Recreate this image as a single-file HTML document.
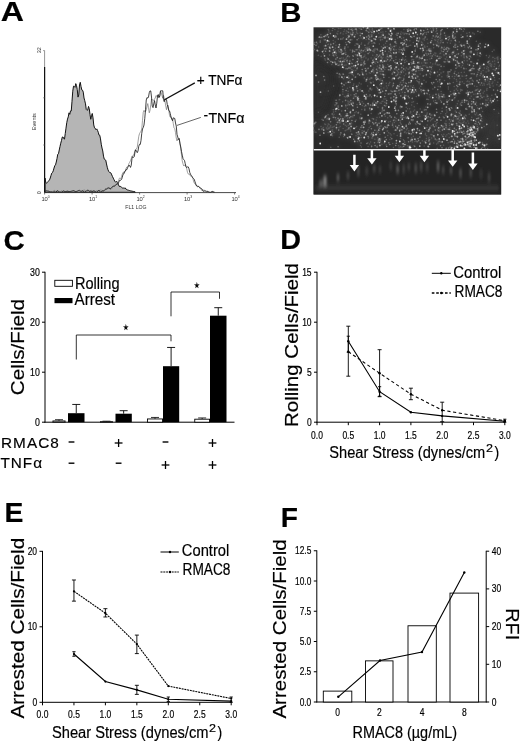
<!DOCTYPE html>
<html><head><meta charset="utf-8"><title>Figure</title>
<style>
html,body{margin:0;padding:0;background:#fff;}
body{width:520px;height:745px;overflow:hidden;}
svg{display:block;font-family:'Liberation Sans', sans-serif;}
</style></head><body>
<svg width="520" height="745" viewBox="0 0 520 745">
<rect width="520" height="745" fill="#fff"/>
<text x="0.80" y="21.00" font-size="28" font-weight="700" fill="#000" textLength="23.20" lengthAdjust="spacingAndGlyphs" stroke="#000" stroke-width="0.18">A</text>
<text x="280.20" y="22.00" font-size="28" font-weight="700" fill="#000" textLength="21.20" lengthAdjust="spacingAndGlyphs" stroke="#000" stroke-width="0.18">B</text>
<text x="3.40" y="250.20" font-size="28" font-weight="700" fill="#000" textLength="21.20" lengthAdjust="spacingAndGlyphs" stroke="#000" stroke-width="0.18">C</text>
<text x="280.20" y="249.30" font-size="28" font-weight="700" fill="#000" textLength="20.80" lengthAdjust="spacingAndGlyphs" stroke="#000" stroke-width="0.18">D</text>
<text x="4.40" y="522.00" font-size="28" font-weight="700" fill="#000" textLength="18.90" lengthAdjust="spacingAndGlyphs" stroke="#000" stroke-width="0.18">E</text>
<text x="280.80" y="527.20" font-size="28" font-weight="700" fill="#000" textLength="17.20" lengthAdjust="spacingAndGlyphs" stroke="#000" stroke-width="0.18">F</text>
<path d="M45,192.30 L45.00,178.05 L45.75,182.25 L46.50,183.34 L47.25,182.43 L48.00,181.64 L48.75,180.73 L49.50,179.82 L50.25,177.97 L51.00,175.43 L51.75,173.13 L52.50,172.50 L53.25,170.80 L54.00,168.10 L54.75,165.78 L55.50,164.90 L56.25,162.06 L57.00,158.57 L57.75,154.25 L58.50,153.67 L59.25,149.97 L60.00,146.44 L60.75,143.19 L61.50,140.45 L62.25,137.11 L63.00,136.94 L63.75,138.63 L64.50,139.10 L65.25,133.52 L66.00,128.15 L66.75,122.68 L67.50,119.10 L68.25,116.87 L69.00,112.83 L69.75,114.34 L70.50,110.91 L71.25,110.99 L72.00,101.24 L72.75,91.19 L73.50,86.18 L74.25,86.45 L75.00,87.35 L75.75,83.61 L76.50,85.44 L77.25,89.66 L78.00,97.11 L78.75,95.03 L79.50,84.99 L80.25,82.30 L81.00,86.39 L81.75,89.88 L82.50,90.17 L83.25,92.12 L84.00,97.99 L84.75,100.71 L85.50,103.88 L86.25,109.51 L87.00,110.39 L87.75,109.94 L88.50,106.42 L89.25,108.67 L90.00,114.55 L90.75,119.29 L91.50,115.74 L92.25,113.48 L93.00,117.88 L93.75,124.96 L94.50,127.85 L95.25,128.30 L96.00,129.73 L96.75,128.88 L97.50,130.37 L98.25,132.28 L99.00,135.16 L99.75,135.28 L100.50,138.92 L101.25,144.22 L102.00,148.04 L102.75,150.97 L103.50,156.13 L104.25,159.13 L105.00,159.72 L105.75,160.18 L106.50,163.93 L107.25,167.24 L108.00,169.83 L108.75,171.47 L109.50,172.42 L110.25,172.52 L111.00,173.08 L111.75,174.90 L112.50,176.59 L113.25,178.11 L114.00,179.70 L114.75,181.19 L115.50,182.10 L116.25,181.73 L117.00,181.53 L117.75,182.72 L118.50,184.86 L119.25,186.37 L120.00,186.59 L120.75,186.55 L121.50,187.21 L122.25,187.83 L123.00,188.37 L123.75,187.96 L124.50,188.21 L125.25,187.93 L126.00,189.18 L126.75,189.57 L127.50,189.94 L128.25,190.17 L129.00,190.38 L129.75,190.61 L130.50,190.83 L131.25,190.99 L132.00,191.14 L132.75,191.33 L133.50,191.46 L134.25,191.62 L135.00,191.79 L135.5,192.3 Z" fill="#b5b5b5" stroke="#111" stroke-width="1.0" stroke-linejoin="round"/>
<polyline points="45.00,190.72 45.75,190.82 46.50,191.99 47.25,192.30 48.00,192.30 48.75,191.84 49.50,191.91 50.25,191.87 51.00,191.93 51.75,192.18 52.50,191.98 53.25,191.32 54.00,190.37 54.75,190.54 55.50,191.11 56.25,191.86 57.00,192.30 57.75,192.04 58.50,191.94 59.25,192.04 60.00,192.30 60.75,191.50 61.50,190.87 62.25,191.26 63.00,192.08 63.75,191.92 64.50,191.50 65.25,191.60 66.00,191.93 66.75,191.58 67.50,190.61 68.25,190.80 69.00,191.56 69.75,192.30 70.50,192.30 71.25,192.30 72.00,192.30 72.75,191.81 73.50,191.33 74.25,191.65 75.00,191.95 75.75,191.78 76.50,191.92 77.25,192.30 78.00,192.30 78.75,192.13 79.50,191.95 80.25,192.30 81.00,192.30 81.75,191.90 82.50,190.78 83.25,190.35 84.00,190.29 84.75,190.08 85.50,190.75 86.25,191.10 87.00,191.95 87.75,192.07 88.50,192.30 89.25,192.02 90.00,191.09 90.75,190.51 91.50,190.44 92.25,190.86 93.00,191.01 93.75,191.43 94.50,191.55 95.25,191.59 96.00,190.85 96.75,190.68 97.50,190.84 98.25,191.30 99.00,190.51 99.75,190.34 100.50,190.07 101.25,190.28 102.00,190.22 102.75,190.82 103.50,190.63 104.25,190.61 105.00,190.01 105.75,189.76 106.50,189.17 107.25,189.04 108.00,188.35 108.75,187.54 109.50,187.72 110.25,189.11 111.00,189.41 111.75,188.61 112.50,187.09 113.25,186.65 114.00,185.85 114.75,185.24 115.50,184.54 116.25,183.87 117.00,183.44 117.75,183.32 118.50,181.16 119.25,178.37 120.00,177.90 120.75,178.53 121.50,177.24 122.25,174.05 123.00,172.40 123.75,172.21 124.50,172.72 125.25,171.03 126.00,168.52 126.75,167.03 127.50,166.68 128.25,165.93 129.00,163.39 129.75,162.24 130.50,160.54 131.25,158.71 132.00,155.95 132.75,156.35 133.50,155.02 134.25,153.40 135.00,149.87 135.75,149.50 136.50,148.97 137.25,147.21 138.00,141.89 138.75,136.35 139.50,133.65 140.25,132.32 141.00,131.23 141.75,129.06 142.50,120.34 143.25,112.24 144.00,110.36 144.75,111.72 145.50,111.51 146.25,109.85 147.00,106.76 147.75,103.57 148.50,107.60 149.25,112.83 150.00,110.43 150.75,104.81 151.50,99.09 152.25,99.97 153.00,99.87 153.75,100.49 154.50,99.07 155.25,97.98 156.00,95.46 156.75,96.18 157.50,95.50 158.25,97.44 159.00,96.06 159.75,96.89 160.50,91.40 161.25,92.78 162.00,95.63 162.75,98.22 163.50,95.34 164.25,98.11 165.00,101.36 165.75,106.04 166.50,109.74 167.25,106.42 168.00,105.12 168.75,109.75 169.50,115.42 170.25,117.15 171.00,116.55 171.75,118.38 172.50,118.89 173.25,123.41 174.00,127.87 174.75,128.65 175.50,132.62 176.25,138.01 177.00,140.91 177.75,139.03 178.50,138.87 179.25,139.87 180.00,143.30 180.75,148.73 181.50,154.87 182.25,160.96 183.00,163.84 183.75,166.02 184.50,165.26 185.25,164.94 186.00,166.13 186.75,168.96 187.50,172.49 188.25,173.94 189.00,174.49 189.75,174.30 190.50,176.06 191.25,176.50 192.00,176.81 192.75,177.98 193.50,180.92 194.25,183.00 195.00,183.96 195.75,184.77 196.50,185.43 197.25,185.87 198.00,186.05 198.75,186.53 199.50,187.60 200.25,188.59 201.00,189.53 201.75,190.23 202.50,190.16 203.25,190.26 204.00,189.85 204.75,190.51 205.50,190.72 206.25,191.12 207.00,191.10 207.75,191.34 208.50,191.73 209.25,191.97 210.00,192.19 210.75,192.30 211.50,191.73 212.25,191.53 213.00,191.02 213.75,192.15 214.50,192.30" fill="none" stroke="#777" stroke-width="0.7" stroke-linejoin="round"/>
<polyline points="45.00,191.52 45.75,190.84 46.50,190.76 47.25,190.90 48.00,191.12 48.75,191.17 49.50,191.65 50.25,192.04 51.00,191.78 51.75,192.02 52.50,192.23 53.25,192.13 54.00,191.58 54.75,191.93 55.50,192.27 56.25,191.99 57.00,190.69 57.75,190.87 58.50,191.38 59.25,192.04 60.00,192.00 60.75,192.30 61.50,192.28 62.25,191.65 63.00,191.00 63.75,190.87 64.50,191.36 65.25,191.62 66.00,191.63 66.75,191.28 67.50,191.38 68.25,191.49 69.00,191.70 69.75,191.53 70.50,191.44 71.25,191.31 72.00,190.87 72.75,190.85 73.50,190.57 74.25,190.91 75.00,191.22 75.75,191.70 76.50,191.43 77.25,191.16 78.00,190.79 78.75,190.43 79.50,190.37 80.25,190.95 81.00,191.42 81.75,191.10 82.50,190.76 83.25,191.27 84.00,192.09 84.75,192.28 85.50,191.48 86.25,191.11 87.00,190.33 87.75,190.24 88.50,190.33 89.25,191.24 90.00,191.19 90.75,191.16 91.50,191.40 92.25,191.59 93.00,191.36 93.75,190.77 94.50,190.85 95.25,191.89 96.00,192.30 96.75,192.30 97.50,191.37 98.25,190.67 99.00,190.18 99.75,191.28 100.50,192.30 101.25,191.83 102.00,191.15 102.75,190.87 103.50,191.16 104.25,190.22 105.00,189.47 105.75,188.95 106.50,189.00 107.25,188.39 108.00,187.86 108.75,188.06 109.50,188.41 110.25,188.73 111.00,188.39 111.75,187.39 112.50,186.57 113.25,186.09 114.00,186.42 114.75,186.13 115.50,185.27 116.25,184.49 117.00,184.20 117.75,183.92 118.50,182.82 119.25,181.18 120.00,180.00 120.75,180.20 121.50,179.49 122.25,177.53 123.00,174.37 123.75,174.01 124.50,171.65 125.25,171.23 126.00,169.61 126.75,169.75 127.50,167.90 128.25,166.59 129.00,165.09 129.75,165.92 130.50,167.42 131.25,165.11 132.00,158.34 132.75,156.73 133.50,157.43 134.25,156.54 135.00,151.92 135.75,149.85 136.50,151.37 137.25,152.66 138.00,150.95 138.75,146.30 139.50,144.29 140.25,144.46 141.00,140.49 141.75,133.34 142.50,128.93 143.25,127.47 144.00,125.01 144.75,118.59 145.50,109.71 146.25,99.99 147.00,97.50 147.75,98.12 148.50,97.03 149.25,92.68 150.00,90.80 150.75,91.02 151.50,97.02 152.25,106.15 153.00,107.61 153.75,103.91 154.50,100.57 155.25,104.85 156.00,107.99 156.75,103.18 157.50,95.79 158.25,94.52 159.00,97.64 159.75,95.80 160.50,90.80 161.25,90.80 162.00,90.80 162.75,90.80 163.50,99.62 164.25,101.71 165.00,99.06 165.75,99.57 166.50,99.57 167.25,104.54 168.00,107.03 168.75,110.52 169.50,110.92 170.25,113.46 171.00,117.11 171.75,119.38 172.50,120.72 173.25,117.77 174.00,118.24 174.75,118.41 175.50,122.98 176.25,126.05 177.00,134.39 177.75,136.98 178.50,139.46 179.25,138.46 180.00,143.90 180.75,146.96 181.50,151.51 182.25,155.15 183.00,158.56 183.75,159.67 184.50,160.49 185.25,163.73 186.00,166.79 186.75,167.59 187.50,166.73 188.25,166.94 189.00,168.78 189.75,172.40 190.50,174.25 191.25,175.31 192.00,176.33 192.75,177.74 193.50,178.49 194.25,179.38 195.00,181.78 195.75,183.88 196.50,186.00 197.25,186.59 198.00,186.76 198.75,186.40 199.50,187.06 200.25,188.12 201.00,188.21 201.75,188.82 202.50,189.99 203.25,191.39 204.00,191.19 204.75,190.94 205.50,191.15 206.25,191.87 207.00,191.53 207.75,191.49 208.50,191.87 209.25,192.30 210.00,192.30 210.75,192.30 211.50,191.82 212.25,191.57 213.00,191.72 213.75,192.22 214.50,192.14" fill="none" stroke="#111" stroke-width="0.8" stroke-linejoin="round"/>
<line x1="44.60" y1="50.50" x2="44.60" y2="192.80" stroke="#777" stroke-width="0.8"/>
<line x1="44.60" y1="67.00" x2="44.60" y2="192.80" stroke="#111" stroke-width="1.2"/>
<line x1="44.00" y1="192.60" x2="236.00" y2="192.60" stroke="#333" stroke-width="0.9"/>
<line x1="44.60" y1="192.60" x2="44.60" y2="194.50" stroke="#444" stroke-width="0.7"/>
<text x="41.40" y="200.6" font-size="5.8" fill="#333">10<tspan dy="-2.2" font-size="3.4">0</tspan></text>
<line x1="92.10" y1="192.60" x2="92.10" y2="194.50" stroke="#444" stroke-width="0.7"/>
<text x="88.90" y="200.6" font-size="5.8" fill="#333">10<tspan dy="-2.2" font-size="3.4">1</tspan></text>
<line x1="139.60" y1="192.60" x2="139.60" y2="194.50" stroke="#444" stroke-width="0.7"/>
<text x="136.40" y="200.6" font-size="5.8" fill="#333">10<tspan dy="-2.2" font-size="3.4">2</tspan></text>
<line x1="187.10" y1="192.60" x2="187.10" y2="194.50" stroke="#444" stroke-width="0.7"/>
<text x="183.90" y="200.6" font-size="5.8" fill="#333">10<tspan dy="-2.2" font-size="3.4">3</tspan></text>
<line x1="234.60" y1="192.60" x2="234.60" y2="194.50" stroke="#444" stroke-width="0.7"/>
<text x="231.40" y="200.6" font-size="5.8" fill="#333">10<tspan dy="-2.2" font-size="3.4">4</tspan></text>
<line x1="43.00" y1="50.60" x2="44.60" y2="50.60" stroke="#666" stroke-width="0.6"/>
<line x1="43.00" y1="97.80" x2="44.60" y2="97.80" stroke="#666" stroke-width="0.6"/>
<line x1="43.00" y1="145.00" x2="44.60" y2="145.00" stroke="#666" stroke-width="0.6"/>
<text transform="translate(36.2,130.2) rotate(-90)" font-size="5.6" fill="#333">Events</text>
<text transform="translate(41.2,53.2) rotate(-90)" font-size="5.4" fill="#333">32</text>
<text transform="translate(41.2,194.2) rotate(-90)" font-size="5.4" fill="#333">0</text>
<text x="125.3" y="208.5" font-size="5.2" fill="#333">FL1 LOG</text>
<line x1="164.40" y1="99.80" x2="194.80" y2="82.90" stroke="#111" stroke-width="1.3"/>
<line x1="177.00" y1="125.40" x2="200.80" y2="117.40" stroke="#555" stroke-width="0.9"/>
<text x="196.70" y="85.00" font-size="14.5" fill="#000" textLength="45.80" lengthAdjust="spacingAndGlyphs" stroke="#000" stroke-width="0.18">+ TNF&#945;</text>
<text x="203.60" y="120.00" font-size="14.5" fill="#000" textLength="4.60" lengthAdjust="spacingAndGlyphs" stroke="#000" stroke-width="0.18">-</text>
<text x="208.40" y="122.50" font-size="14.5" fill="#000" textLength="36.00" lengthAdjust="spacingAndGlyphs" stroke="#000" stroke-width="0.18">TNF&#945;</text>
<defs><clipPath id="cb"><rect x="313.5" y="27.3" width="187.70" height="167.30"/></clipPath><filter id="bl" x="-5%" y="-5%" width="110%" height="110%"><feGaussianBlur stdDeviation="0.7"/></filter><filter id="hz" x="-5%" y="-5%" width="110%" height="110%"><feGaussianBlur stdDeviation="2.6"/></filter><filter id="bl2" x="-5%" y="-20%" width="110%" height="140%"><feGaussianBlur stdDeviation="0.9 2.0"/></filter><filter id="bl3" x="-5%" y="-5%" width="110%" height="110%"><feGaussianBlur stdDeviation="5"/></filter></defs>
<rect x="313.50" y="27.30" width="187.70" height="167.30" fill="#2a2a2a"/>
<g clip-path="url(#cb)">
<g filter="url(#bl3)">
<polygon points="313,57 335,75 325,111 313,116" fill="#2e2e2e"/>
<polygon points="502,104 486,114 480,138 502,148" fill="#363636"/>
</g>
<path d="M349.2,56.7h0M372.7,55.2h0M455.8,41.6h0M324.7,124.1h0M338.1,105.5h0M375.2,63.3h0M351.8,29.3h0M423.2,44.4h0M428.8,139.1h0M370.0,109.7h0M422.9,65.8h0M365.5,47.8h0M497.8,82.3h0M317.1,43.8h0M469.2,56.1h0M442.0,51.5h0M378.9,37.4h0M325.5,124.5h0M461.4,44.4h0M482.5,85.2h0M333.2,116.1h0M360.5,51.3h0M392.6,123.3h0M349.0,35.9h0M457.0,67.0h0M452.3,76.5h0M452.2,58.5h0M350.2,72.9h0M343.5,84.6h0M369.1,29.0h0M399.0,52.0h0M460.7,103.2h0M432.3,118.8h0M320.9,34.7h0M430.6,120.7h0M331.7,133.6h0M369.6,121.5h0M443.8,61.7h0M382.1,71.4h0M435.7,125.0h0M411.4,120.2h0M499.5,72.9h0M435.1,121.6h0M320.3,40.5h0M355.5,49.8h0M493.1,85.9h0M436.9,56.2h0M427.3,46.4h0M343.1,128.4h0M352.3,102.2h0M414.8,63.5h0M424.8,38.2h0M385.9,67.6h0M435.6,40.2h0M461.5,127.6h0M431.2,51.3h0M348.3,93.9h0M464.4,29.3h0M326.6,42.4h0M412.3,56.4h0M496.9,84.7h0M489.5,81.4h0M371.2,113.6h0M461.1,123.4h0M421.0,133.4h0M415.5,123.5h0M330.1,127.0h0M340.1,75.0h0M456.8,116.5h0M385.0,122.2h0M348.0,94.1h0M353.8,84.1h0M381.6,60.7h0M447.7,59.9h0M449.3,137.5h0M355.9,62.8h0M432.2,38.2h0M406.8,61.3h0M358.5,38.6h0M417.3,112.4h0M381.9,34.9h0M374.6,58.1h0M430.0,77.2h0M405.6,95.8h0M454.1,92.2h0M374.5,48.9h0M360.8,114.3h0M416.0,124.5h0M405.1,41.9h0M364.9,54.9h0M371.6,36.8h0M449.6,48.7h0M371.7,89.8h0M441.2,48.8h0M379.3,79.6h0M491.4,66.5h0M382.2,39.5h0M475.8,128.6h0M394.4,29.2h0M443.3,116.8h0M393.2,126.9h0M439.6,57.0h0M401.6,71.3h0M352.8,72.2h0M450.7,121.6h0M368.7,121.8h0M323.7,53.7h0M494.4,77.5h0M342.9,91.8h0M362.0,72.0h0M322.8,128.8h0M416.3,75.9h0M383.3,65.5h0M454.2,86.5h0M424.1,65.6h0M455.0,33.7h0M396.2,118.6h0M438.6,93.9h0M351.4,69.4h0M363.2,57.6h0M361.1,62.9h0M404.5,60.4h0M461.3,55.7h0M460.8,90.6h0M348.1,91.3h0M350.6,113.0h0M496.0,95.5h0M428.6,140.7h0M476.6,143.6h0M357.5,134.4h0M348.1,55.5h0M398.7,72.5h0M378.7,33.3h0M487.0,88.5h0M388.7,33.6h0M451.7,53.0h0M400.8,49.5h0M486.7,89.8h0M432.1,83.5h0M407.9,68.9h0M346.6,126.3h0M405.8,74.0h0M376.1,61.2h0M402.3,117.8h0M422.5,56.6h0M349.0,120.4h0M337.6,34.0h0M397.7,71.7h0M370.5,121.2h0M362.2,101.8h0M443.1,128.0h0M380.8,92.6h0M488.7,57.6h0M376.8,134.0h0M477.2,54.8h0M423.0,38.9h0M444.0,66.5h0M418.9,70.5h0M368.3,59.0h0M481.0,54.5h0M453.3,82.5h0M440.0,53.6h0M339.9,51.8h0M402.4,143.7h0M440.1,35.3h0M328.2,132.4h0M323.2,127.6h0M426.4,138.6h0M367.3,50.5h0M433.7,47.7h0M408.8,74.4h0M428.9,50.8h0M480.1,98.7h0M444.8,139.7h0M436.6,144.0h0M374.1,101.0h0M350.8,94.9h0M489.1,78.4h0M343.9,31.6h0M318.3,55.2h0M426.8,127.4h0M432.3,84.2h0M404.3,75.7h0M456.8,81.3h0M340.5,122.1h0M450.1,83.6h0M434.5,71.6h0M386.0,105.4h0M370.3,73.3h0M433.3,135.7h0M379.7,84.8h0M374.7,50.6h0M462.2,100.6h0M425.9,66.1h0M330.8,44.9h0M391.0,90.5h0M361.8,109.4h0M467.0,141.2h0M484.3,84.9h0M340.7,32.8h0M471.0,73.7h0M449.4,123.4h0M370.3,82.2h0M351.1,125.1h0M409.2,33.5h0M377.4,54.9h0M376.5,87.0h0M396.8,91.2h0M371.1,134.6h0M364.8,109.0h0M372.1,29.7h0M450.7,129.5h0M472.8,127.1h0M464.1,83.5h0M441.2,93.9h0M388.2,57.1h0M400.3,136.3h0M331.8,64.4h0M377.2,146.0h0M363.4,92.3h0M471.2,147.5h0M391.1,91.2h0M454.6,146.6h0M430.3,143.4h0M355.0,45.2h0M478.7,70.3h0M362.8,127.2h0M443.9,54.5h0M352.7,27.8h0M335.0,105.4h0M468.7,44.0h0M470.2,128.0h0M402.4,147.1h0M390.1,44.9h0M336.0,36.9h0M490.6,99.1h0M352.3,52.2h0M465.1,133.2h0M340.2,119.0h0M475.7,114.8h0M417.2,56.0h0M329.5,55.0h0M457.7,62.3h0M430.1,74.0h0M403.8,47.5h0M399.8,47.2h0M405.0,62.3h0M363.1,133.0h0M330.8,147.3h0M467.1,60.8h0M406.5,129.8h0M439.9,56.5h0M364.8,98.7h0M398.9,89.2h0M434.6,39.8h0M341.1,116.3h0M416.9,40.1h0M335.7,54.2h0M483.8,144.5h0M348.2,35.6h0M443.0,94.4h0M479.8,66.0h0M381.9,28.6h0M477.5,49.1h0M473.9,94.3h0M341.5,58.0h0M342.7,74.1h0M381.4,46.8h0M492.9,81.9h0M493.2,69.6h0M439.3,141.6h0M440.1,38.5h0M370.6,49.4h0M328.4,44.3h0M386.6,127.8h0M411.2,62.6h0M414.7,110.1h0M377.9,106.9h0M393.8,91.2h0M344.6,59.7h0M360.7,142.9h0M453.7,117.3h0M430.2,104.7h0M451.1,40.8h0M473.5,103.8h0M470.6,129.7h0M454.4,28.5h0M451.3,119.9h0M395.8,53.6h0M451.4,94.4h0M461.1,35.0h0M369.2,127.4h0M411.6,64.3h0M363.5,103.4h0M377.4,66.2h0M440.7,36.9h0M432.5,96.1h0M488.5,102.8h0M323.3,129.5h0M355.0,77.2h0M494.0,50.0h0M357.4,56.3h0M430.6,28.0h0M371.5,35.5h0M379.6,117.2h0M369.8,50.4h0M447.5,104.6h0M464.6,148.5h0M366.1,39.6h0M420.6,66.5h0M442.2,126.3h0M458.8,116.8h0M433.7,143.0h0M449.5,38.4h0M391.3,67.8h0M335.5,102.7h0M331.0,61.5h0M436.2,139.9h0M352.8,116.9h0M321.1,56.2h0M338.4,50.1h0M470.0,128.7h0M477.5,52.9h0M387.5,130.9h0M373.7,33.0h0M460.1,113.9h0M432.0,134.7h0M390.6,137.4h0M462.5,65.6h0M369.1,119.6h0M380.1,103.0h0M431.7,68.9h0M431.7,138.0h0M401.3,124.4h0M426.0,106.9h0M430.5,74.7h0M356.2,111.7h0M439.0,117.4h0M335.2,42.0h0M351.4,134.1h0M394.6,130.3h0M485.3,81.2h0M406.2,124.7h0M356.7,126.5h0M441.3,50.8h0M460.4,131.7h0M383.4,37.5h0M424.4,141.5h0M428.1,89.4h0M365.9,106.0h0M333.4,112.0h0M382.9,32.0h0M412.5,73.7h0M370.5,78.0h0M427.9,43.2h0M406.3,132.9h0M365.7,51.4h0M497.9,59.0h0M499.4,65.2h0M379.9,134.6h0M381.7,82.9h0M363.0,36.7h0M381.1,89.1h0M394.4,122.6h0M328.9,32.0h0M377.8,90.0h0M316.0,132.2h0M444.7,97.0h0M485.9,103.2h0M476.7,76.5h0M344.9,117.1h0M347.4,108.4h0M458.3,141.0h0M417.6,55.6h0M443.2,71.9h0M446.9,134.7h0M320.6,37.6h0M347.4,88.2h0M397.1,88.2h0M435.9,62.8h0M416.3,96.5h0M354.6,128.4h0M400.7,117.4h0M360.2,32.9h0M433.0,131.3h0M392.3,47.2h0M442.0,40.1h0M448.4,89.1h0M395.7,63.7h0M498.7,113.2h0M469.2,114.3h0M352.8,29.6h0M444.3,47.2h0M457.3,103.7h0M455.8,132.9h0M380.4,39.4h0M497.2,125.3h0M399.7,84.4h0M361.9,60.0h0M445.2,35.4h0M403.9,78.2h0M362.8,64.5h0M405.5,59.5h0M371.4,89.9h0M430.0,127.0h0M413.8,92.8h0M489.5,55.9h0M334.5,117.3h0M361.6,43.0h0M466.0,122.9h0M453.9,99.1h0M437.2,64.4h0M446.6,57.0h0M381.0,86.2h0M421.9,42.4h0M450.2,146.2h0M435.2,55.5h0M467.9,121.1h0M377.8,137.6h0M404.6,62.6h0M418.9,94.3h0M361.4,146.9h0M466.2,138.6h0M345.3,125.2h0M327.0,119.0h0M443.4,136.8h0M378.8,92.8h0M371.7,138.0h0M352.4,70.1h0M370.5,41.1h0M359.7,129.4h0M367.2,96.2h0M364.6,122.6h0M448.6,100.5h0M347.0,137.6h0M375.0,43.3h0M425.0,117.3h0M357.0,104.4h0M329.6,128.0h0M461.6,123.8h0M387.1,54.2h0M332.6,130.1h0M458.5,73.0h0M395.2,99.0h0M405.3,70.0h0M464.0,121.3h0M396.1,34.6h0M452.9,93.4h0M470.8,57.2h0M338.4,28.6h0M388.0,94.0h0M407.5,108.8h0M455.9,44.7h0M379.1,142.2h0M406.3,67.9h0M430.3,71.3h0M482.2,65.0h0M378.5,138.7h0M462.6,118.0h0M359.6,100.5h0M446.9,112.1h0M453.3,52.1h0M345.4,59.2h0M339.8,48.9h0M425.9,60.1h0M338.5,61.0h0M352.9,50.5h0M429.0,137.6h0M353.0,34.8h0M340.4,134.7h0M386.3,83.3h0M424.2,115.5h0M352.2,66.4h0M364.9,49.6h0M437.0,139.8h0M478.5,44.6h0M361.2,137.5h0M487.0,96.8h0M430.0,142.7h0M464.6,50.5h0M406.5,95.6h0M362.7,50.9h0M455.6,57.3h0M474.8,113.9h0M438.2,86.6h0M420.7,120.8h0M335.3,48.3h0M463.4,139.5h0M460.9,130.3h0M423.6,69.5h0M381.9,111.7h0M426.7,50.7h0M405.2,41.7h0M485.7,99.9h0M455.3,36.6h0M346.0,83.0h0M424.0,80.3h0M403.6,37.8h0M386.1,58.1h0M460.0,78.4h0M421.5,42.0h0M381.9,70.5h0M360.1,89.4h0M488.2,71.2h0M389.9,82.6h0M497.8,59.7h0M333.2,127.0h0M437.6,129.2h0M352.8,74.6h0M392.3,125.2h0M448.5,133.5h0M377.5,70.6h0M381.5,59.5h0M455.7,57.0h0M464.2,57.7h0M477.1,124.5h0M345.1,130.7h0M475.1,90.8h0M438.5,58.6h0M427.2,112.9h0M443.5,96.3h0M443.9,134.2h0M360.0,117.2h0M453.7,28.0h0M352.7,116.1h0M455.0,71.3h0M357.6,33.4h0M428.9,130.3h0M396.9,33.2h0M469.3,38.9h0M477.4,49.9h0M346.8,68.4h0M386.1,120.4h0M336.6,103.5h0M405.6,96.1h0M401.1,129.4h0M414.5,53.7h0M453.3,123.7h0M314.9,132.1h0M449.3,83.1h0M424.6,46.2h0M360.6,28.9h0M413.4,33.9h0M426.6,135.8h0M400.2,74.3h0M393.3,85.7h0M380.0,36.8h0M433.4,44.2h0M434.8,53.0h0M368.8,104.9h0M497.9,72.1h0M444.0,55.5h0M395.9,121.0h0M394.0,133.8h0M461.3,72.6h0M344.5,77.1h0M413.3,136.3h0M426.4,55.1h0M413.0,115.9h0M386.2,145.0h0M409.9,40.7h0M400.5,138.3h0M346.5,58.1h0M360.7,65.6h0M481.9,121.4h0M391.0,29.6h0M314.5,49.4h0M360.5,35.7h0M393.8,97.1h0M472.8,33.1h0M486.6,68.4h0M435.2,36.9h0M345.6,68.7h0M498.8,68.8h0M460.2,111.1h0M387.4,125.5h0M380.5,40.2h0M368.1,43.9h0M332.7,53.7h0M366.3,79.4h0M324.1,39.7h0M374.9,139.3h0M457.9,132.7h0M379.4,44.1h0M407.9,90.0h0M463.6,122.5h0M336.2,55.6h0M407.4,40.5h0M480.1,56.2h0M376.5,122.4h0M372.5,138.0h0M367.8,47.9h0M467.1,81.6h0M474.5,147.2h0M476.7,113.0h0M488.0,78.0h0M448.6,100.8h0M348.2,103.7h0M359.2,134.1h0M477.8,89.2h0M347.9,101.1h0M426.8,130.5h0M348.8,82.4h0M440.2,43.0h0M346.5,60.9h0M444.8,129.6h0M416.0,57.7h0M466.5,145.1h0M454.1,53.1h0M431.8,115.1h0M346.1,33.2h0M485.2,148.4h0M400.9,147.1h0M348.3,125.3h0M324.8,40.2h0M461.9,75.9h0M395.3,39.4h0M380.0,80.4h0M327.9,44.5h0M387.1,88.0h0M414.6,116.8h0M490.8,78.3h0M396.1,56.9h0M476.0,94.1h0M395.9,59.5h0M334.9,29.5h0M358.2,73.7h0M373.0,64.4h0M353.3,85.4h0M455.9,95.7h0M478.2,115.3h0M368.5,43.3h0M346.2,130.1h0M363.7,56.5h0M368.1,146.6h0M381.9,144.3h0M338.0,31.2h0M426.1,82.0h0M466.7,84.8h0M469.2,81.7h0M391.6,117.0h0M424.2,90.4h0M480.6,90.0h0M436.0,44.2h0M423.8,126.5h0M420.3,27.3h0M383.7,44.9h0M385.8,31.4h0M407.0,128.0h0M355.8,70.4h0M342.7,118.6h0M322.0,119.5h0M419.0,62.0h0M464.2,60.8h0M391.2,134.9h0M433.0,132.1h0M430.2,96.9h0M384.1,132.8h0M387.2,37.5h0M425.3,141.5h0M478.0,60.0h0M447.1,75.7h0M440.7,100.5h0M471.8,61.9h0M457.9,118.2h0M392.5,86.8h0M313.9,125.0h0M463.7,28.1h0M372.3,118.5h0M332.3,30.6h0M497.7,58.0h0M394.5,53.6h0M386.5,86.0h0M406.2,107.3h0M339.9,123.2h0M349.5,56.7h0M487.7,46.5h0M392.1,79.8h0M483.9,96.7h0M414.2,87.9h0M396.8,70.0h0M373.3,59.6h0M484.0,83.6h0M459.3,41.9h0M458.7,53.5h0M431.5,119.6h0M379.5,61.1h0M378.3,132.3h0M368.4,138.2h0M418.3,117.0h0M477.5,107.9h0M426.4,140.5h0M441.6,125.8h0M436.0,31.8h0M384.0,99.0h0M370.8,31.4h0M427.1,39.2h0M365.7,132.4h0M473.9,63.5h0M424.5,32.5h0M333.9,54.8h0M411.7,137.9h0M496.9,58.0h0M450.0,134.0h0M424.4,110.2h0M370.6,142.0h0M455.3,111.0h0M480.5,67.1h0M427.1,63.1h0M368.7,137.2h0M346.2,114.1h0M433.1,95.2h0M387.2,41.0h0M490.1,76.7h0M459.7,93.6h0M467.7,81.0h0M333.2,40.5h0M352.8,109.3h0M329.0,124.4h0M350.2,129.2h0M493.2,75.7h0M356.0,135.7h0M383.8,88.1h0M464.2,57.1h0M489.0,83.2h0M443.6,145.3h0M425.1,142.1h0M321.8,128.7h0M456.1,106.0h0M419.8,116.2h0M462.2,123.0h0M390.8,31.2h0M424.4,40.2h0M466.3,138.8h0M465.7,115.2h0M404.2,34.3h0M458.4,118.1h0M328.0,114.8h0M340.2,126.5h0M421.3,91.7h0M432.7,118.7h0M388.6,37.6h0M436.3,123.5h0M384.8,102.2h0M318.7,37.2h0M368.1,37.0h0M374.3,104.2h0M426.8,53.6h0M472.2,80.1h0M347.4,61.9h0M425.4,134.8h0M460.4,104.7h0M497.2,58.1h0M391.0,29.5h0M408.3,102.8h0M339.2,77.1h0M463.3,31.3h0M381.3,103.3h0M420.6,69.9h0M380.0,90.2h0M382.3,58.7h0M422.4,112.3h0M325.3,60.0h0M441.3,142.3h0M342.6,38.9h0M439.7,64.8h0M359.9,50.2h0M373.9,68.0h0M488.2,98.7h0M468.5,101.9h0M441.1,91.5h0M465.3,115.2h0M377.7,72.6h0M353.2,91.0h0M380.8,139.0h0M389.9,139.6h0M482.5,76.8h0M395.7,110.0h0M410.7,45.2h0M446.0,121.0h0M453.3,119.2h0M318.4,112.3h0M334.8,104.9h0M394.5,46.6h0M384.8,69.6h0M371.6,109.1h0M340.9,28.2h0M442.3,130.1h0M494.2,66.5h0M389.4,61.1h0M437.2,148.7h0M405.6,56.5h0M439.8,82.0h0M448.8,75.0h0M383.7,37.7h0M399.8,61.7h0M454.8,76.4h0M383.5,67.5h0M378.5,114.0h0M453.8,60.4h0M333.3,109.8h0M420.5,34.5h0M360.6,135.3h0M470.4,106.4h0M461.0,118.7h0M448.2,73.4h0M497.9,57.1h0M458.6,125.7h0M358.3,96.6h0M457.6,90.6h0M411.1,77.9h0M454.3,90.5h0M322.0,129.0h0M422.4,68.7h0M363.3,50.8h0M368.9,35.0h0M345.2,49.0h0M476.1,103.1h0M414.9,50.8h0M407.5,128.5h0M403.4,82.5h0M412.3,59.6h0M477.4,126.6h0M478.2,118.4h0M389.9,29.1h0M380.6,126.1h0M443.8,104.5h0M390.2,133.7h0M450.7,147.6h0M409.5,145.9h0M442.6,48.1h0M413.6,59.7h0M377.0,117.4h0M329.3,46.5h0M388.8,51.6h0M474.2,34.1h0M346.4,30.9h0M387.1,130.9h0M464.3,54.7h0M402.4,92.2h0M425.5,133.2h0M382.0,101.5h0M492.3,51.4h0M378.2,27.3h0M355.5,54.7h0M477.7,63.3h0M339.6,65.2h0M444.2,117.5h0M353.5,75.8h0M380.7,62.1h0M482.3,147.5h0M481.7,118.5h0M453.9,58.4h0M371.3,110.2h0M328.2,29.5h0M489.1,84.2h0M429.8,73.6h0M404.0,117.5h0M377.7,57.4h0M405.5,33.5h0M334.3,126.2h0M445.0,123.2h0M473.9,147.6h0M481.3,72.1h0M463.9,116.6h0M454.3,47.3h0M426.3,75.6h0M351.0,103.0h0M484.2,91.3h0M391.0,48.4h0M410.0,68.6h0M360.0,118.7h0M380.5,141.5h0M457.8,140.5h0M387.1,127.1h0M381.5,36.8h0M387.7,135.4h0M449.9,147.3h0M446.5,110.1h0M484.1,147.3h0M402.6,58.0h0M399.7,49.7h0M351.9,39.7h0M434.2,137.2h0M474.5,85.9h0M339.8,28.1h0M402.8,117.4h0M382.4,110.8h0M361.0,137.4h0M476.6,105.5h0M343.7,136.4h0M396.0,45.7h0M424.5,92.5h0M412.2,114.5h0M367.0,47.3h0M486.4,55.6h0M456.1,108.1h0M433.4,124.7h0M431.2,72.3h0M377.8,77.1h0M449.2,55.0h0M408.9,130.8h0M314.3,49.6h0M329.5,60.3h0M381.1,53.9h0M344.6,53.0h0M385.2,116.2h0M372.7,61.1h0M324.9,58.7h0M343.7,78.8h0M401.2,116.7h0M369.5,79.3h0M377.9,57.8h0M449.3,48.9h0M400.2,107.7h0M361.1,37.9h0M437.5,72.0h0M413.4,85.7h0M488.7,70.2h0M433.2,30.9h0M441.2,57.3h0M427.1,125.0h0M414.1,130.7h0M413.4,111.2h0M464.7,47.0h0M392.9,72.8h0M468.7,123.2h0M380.8,78.9h0M347.5,117.9h0M471.4,137.9h0M471.2,96.2h0M467.6,96.1h0M476.3,41.2h0M391.9,39.6h0M430.7,115.1h0M476.1,122.9h0M404.1,140.7h0M339.0,51.8h0M377.2,131.1h0M467.8,46.9h0M389.0,83.7h0M497.5,100.6h0M426.7,62.9h0M356.1,120.1h0M340.5,33.6h0M400.7,71.4h0M334.2,62.8h0M432.8,64.0h0M467.7,64.3h0M452.8,114.3h0M369.0,123.3h0M398.4,64.7h0M414.0,145.7h0M499.0,66.7h0M487.0,100.3h0M328.3,91.0h0M422.2,43.1h0M350.4,39.9h0M380.5,40.5h0M440.6,53.3h0M376.6,87.2h0M334.0,114.2h0M339.7,99.6h0M336.4,128.7h0M415.4,49.2h0M422.6,51.7h0M380.7,97.0h0M416.0,140.7h0M440.6,40.4h0M441.0,72.9h0M490.3,65.7h0M375.0,75.6h0M344.2,65.3h0M487.3,84.6h0M332.0,130.2h0M356.6,29.9h0M375.4,49.0h0M490.2,63.4h0M450.5,91.5h0M433.1,118.2h0M385.3,93.8h0M489.2,70.7h0M463.8,57.0h0M467.4,91.0h0M372.0,43.2h0M359.7,75.0h0M467.0,125.6h0M449.5,125.4h0M358.3,136.3h0M353.7,70.7h0M477.8,130.9h0M466.9,33.3h0M371.9,89.1h0M444.9,123.4h0M479.3,55.8h0M328.3,117.9h0M445.7,113.7h0M446.2,38.3h0M445.7,136.2h0M435.4,55.2h0M351.5,66.4h0M342.8,94.2h0M367.5,31.3h0M352.8,90.7h0M446.0,115.6h0M358.6,112.3h0M361.1,44.2h0M496.1,72.6h0M367.7,131.1h0M464.0,55.2h0M401.5,38.4h0M326.4,127.9h0M465.2,76.0h0M351.6,123.3h0M458.1,84.3h0M387.7,117.7h0M342.7,101.7h0M324.2,45.9h0M477.2,89.8h0M445.2,58.8h0M397.7,38.1h0M424.1,38.8h0M373.0,30.5h0M429.5,49.6h0M358.5,44.3h0M408.3,132.5h0M466.1,68.7h0M356.2,43.8h0M470.3,131.4h0M471.8,70.5h0M464.0,100.0h0M399.6,59.6h0M358.1,137.0h0M466.3,115.8h0M447.8,75.1h0M464.3,72.2h0M396.5,43.5h0M364.3,78.0h0M430.1,56.1h0M409.6,108.7h0M470.2,139.1h0M327.6,125.9h0M462.8,119.7h0M349.3,39.9h0M487.1,66.7h0M380.1,66.3h0M369.1,46.9h0M349.8,81.1h0M428.5,99.4h0M476.5,144.9h0M416.4,70.4h0M447.8,37.4h0M361.0,58.0h0M348.0,47.1h0M341.7,111.1h0M343.4,37.7h0M492.8,57.5h0M359.9,52.5h0M390.6,44.9h0M336.0,45.3h0M347.6,105.3h0M339.3,46.0h0M350.3,29.5h0M421.6,58.8h0M361.1,83.9h0M373.4,27.3h0M344.5,96.4h0M400.6,33.7h0M377.3,123.8h0M493.1,57.6h0M456.2,119.0h0M429.1,131.4h0M462.9,63.2h0M402.1,80.5h0M339.7,73.8h0M456.4,54.5h0M438.1,141.9h0M414.9,141.4h0M400.2,122.4h0M455.5,37.5h0M452.3,54.2h0M371.7,134.8h0M446.9,100.0h0M420.2,109.1h0M430.0,104.6h0M471.0,84.1h0M400.8,77.8h0M403.4,113.7h0M403.0,33.0h0M370.5,126.2h0M460.6,89.4h0M371.3,34.6h0M476.1,102.2h0M460.1,140.1h0M450.6,94.8h0M349.6,101.9h0M350.5,33.1h0M348.9,136.6h0M469.4,32.6h0M494.8,63.9h0M335.6,51.0h0M382.8,82.1h0M389.0,77.6h0M480.3,84.9h0M476.9,86.6h0M452.9,34.5h0M438.5,65.0h0M347.2,31.4h0M380.5,73.9h0M437.6,81.6h0M347.4,97.0h0M372.4,28.8h0M388.6,85.5h0M377.2,126.0h0M473.0,103.5h0M390.3,121.4h0M398.1,78.4h0M393.4,147.6h0M339.7,46.6h0M408.5,28.6h0M381.9,58.4h0M359.3,83.1h0M460.2,123.1h0M426.3,32.6h0M446.3,147.8h0M426.5,34.3h0M424.7,46.1h0M354.2,96.7h0M366.5,74.1h0M403.4,72.1h0M440.5,141.8h0M424.2,145.9h0M484.1,126.4h0M376.5,133.0h0M494.7,60.9h0M447.2,129.2h0M404.7,142.2h0M459.9,63.5h0M369.0,42.2h0M410.7,112.6h0M397.2,135.4h0M369.2,50.3h0M336.0,104.6h0M348.4,128.2h0M499.2,78.7h0M354.2,128.4h0M431.0,134.5h0M438.2,39.7h0M344.5,29.8h0M488.2,69.8h0M355.7,127.5h0M371.4,96.7h0M364.3,94.8h0M388.8,57.6h0M422.5,34.4h0M379.4,140.2h0M412.4,142.1h0M445.7,35.9h0M381.0,92.6h0M480.2,32.3h0M462.7,76.2h0M392.7,143.5h0M486.2,104.8h0M382.9,57.6h0M472.5,142.9h0M394.1,50.3h0M405.9,116.8h0M349.2,73.2h0M499.2,86.2h0M425.6,53.2h0M389.1,39.8h0M388.5,122.0h0M400.3,146.4h0M398.0,73.7h0M414.2,106.8h0M376.6,103.2h0M459.6,122.4h0M328.7,30.3h0M355.5,34.8h0M347.1,56.5h0M366.7,69.3h0M359.2,28.6h0M404.5,132.4h0M471.8,117.2h0M424.3,47.0h0M408.3,146.0h0M466.2,78.4h0M394.6,120.1h0M472.6,108.8h0M463.2,54.8h0M360.7,33.4h0M500.4,89.6h0M406.0,88.2h0M328.2,128.1h0M450.4,43.3h0M422.3,140.8h0M424.2,62.1h0M367.9,59.9h0M321.8,129.4h0M456.4,79.5h0M468.1,47.2h0M367.6,86.1h0M358.4,60.1h0M450.0,62.1h0M468.0,84.5h0M435.8,37.1h0M438.4,98.7h0M386.2,102.2h0M391.7,30.0h0M478.6,127.7h0M388.7,132.8h0M377.7,50.3h0M367.0,48.8h0M382.8,83.6h0M351.4,122.9h0M427.4,93.8h0M439.3,130.0h0M436.7,97.3h0M438.1,43.1h0M430.5,51.0h0M362.3,105.4h0M350.2,50.1h0M409.1,27.4h0M419.5,88.2h0M356.6,32.8h0M460.6,91.1h0M471.0,52.9h0M368.2,129.6h0M416.6,148.6h0M369.7,143.9h0M398.6,145.8h0M397.2,70.5h0M409.1,45.6h0M478.9,69.8h0M399.5,93.2h0M327.4,58.1h0M411.7,60.1h0M492.2,83.5h0M462.3,81.8h0M427.4,59.7h0M448.5,50.1h0M360.5,145.5h0M367.8,142.8h0M419.3,79.5h0M447.8,73.1h0M416.3,91.4h0M407.3,145.8h0M423.8,75.5h0M432.9,88.9h0M456.2,123.4h0M361.1,91.1h0M335.5,35.6h0M385.0,47.1h0M491.6,65.1h0M393.6,71.4h0M328.3,124.1h0M352.6,89.7h0M351.4,62.9h0M447.2,116.1h0M320.9,37.8h0M356.6,30.9h0M471.7,110.4h0M413.5,101.8h0M490.8,64.0h0M357.0,88.5h0M327.2,129.2h0M385.8,99.1h0M486.1,72.0h0M440.3,127.5h0M421.3,31.2h0M482.4,142.4h0M439.8,131.4h0M483.2,93.1h0M440.8,113.4h0M340.5,74.8h0M435.9,53.2h0M488.9,63.9h0M462.2,90.3h0M365.1,120.7h0M449.7,78.6h0M437.6,41.6h0M395.9,57.1h0M382.1,101.6h0M343.4,60.2h0M380.8,71.0h0M314.7,42.4h0M401.1,32.0h0M363.2,122.2h0M494.9,58.4h0M427.1,130.4h0M373.8,72.8h0M363.0,39.1h0M370.3,78.8h0M419.3,63.1h0M398.8,87.0h0M384.2,143.0h0M419.1,83.8h0M371.6,145.8h0M448.6,61.9h0M379.7,71.3h0M459.7,120.2h0M449.9,127.7h0M339.8,64.5h0M439.6,69.6h0M402.2,70.5h0M336.3,37.0h0M429.0,67.4h0M487.6,79.9h0M491.9,95.3h0M473.3,81.2h0M436.3,126.1h0M461.7,89.7h0M387.8,64.4h0M399.9,129.5h0M339.2,137.3h0M417.3,103.4h0M341.6,62.5h0M459.0,116.0h0M332.1,127.3h0M399.0,49.2h0M400.9,123.5h0M492.6,61.5h0M440.6,32.3h0M441.9,76.7h0M342.4,86.6h0M330.2,46.9h0M439.7,98.8h0M345.6,96.9h0M390.9,46.3h0M422.3,48.4h0M382.5,110.0h0M386.9,128.0h0M396.1,49.7h0M430.8,49.1h0M429.9,59.1h0M387.1,46.6h0M343.3,57.9h0M342.9,38.3h0M457.5,76.3h0M463.6,118.4h0M348.2,101.9h0M318.7,47.0h0M385.6,43.2h0M482.6,111.4h0M417.7,76.0h0M376.3,120.0h0M399.8,89.7h0M367.6,78.1h0M369.5,29.8h0M476.8,148.6h0M314.0,130.2h0M349.9,124.8h0M403.4,139.7h0M437.2,148.2h0M373.7,49.5h0M435.5,100.6h0M384.9,74.9h0M462.6,138.4h0M346.0,64.9h0M376.7,73.0h0M421.7,63.0h0M431.3,125.7h0M458.5,121.9h0M363.7,137.7h0M343.1,34.0h0M330.7,125.7h0M332.5,135.7h0M377.1,103.2h0M423.8,56.0h0M358.3,85.2h0M447.4,77.0h0M353.1,106.5h0M447.4,42.8h0M358.9,48.9h0M380.3,37.6h0M455.1,43.9h0M487.6,148.7h0M412.5,71.1h0M470.3,51.5h0M415.7,27.9h0M445.8,59.3h0M480.3,104.0h0M376.1,56.2h0M370.1,39.5h0M379.7,92.9h0M448.0,129.3h0M463.3,63.6h0M440.8,30.9h0M441.4,96.6h0M362.1,130.7h0M486.3,106.6h0M400.1,128.2h0M334.0,132.5h0M332.5,131.5h0M419.4,68.4h0M341.9,65.3h0M340.3,60.8h0M349.9,87.3h0M347.6,129.4h0M448.5,36.9h0M365.6,97.0h0M439.8,37.6h0M419.1,59.0h0M364.6,56.6h0M400.6,120.8h0M327.2,118.9h0M339.6,96.1h0M349.1,67.3h0M372.2,35.0h0M435.6,61.1h0M480.8,104.3h0M385.4,113.5h0M363.5,63.3h0M378.0,107.4h0M427.1,55.3h0M441.6,134.8h0M478.0,72.2h0M363.6,74.9h0M422.1,131.5h0M369.1,96.2h0M390.2,57.1h0M369.4,48.7h0M447.4,61.6h0M403.4,65.7h0M433.6,101.1h0M340.4,115.8h0M437.7,76.1h0M478.9,117.9h0M412.2,98.4h0M400.9,34.6h0M399.1,147.8h0M403.9,29.6h0M364.4,61.6h0M400.8,82.2h0M490.0,85.2h0M328.7,128.7h0M437.1,122.4h0M430.5,62.8h0M441.1,42.0h0M454.3,78.5h0M422.5,70.1h0M339.2,99.8h0M358.1,99.6h0M472.5,80.4h0M483.1,70.6h0M397.4,129.2h0M476.4,128.7h0M420.8,86.2h0M336.1,119.7h0M397.2,128.8h0M363.8,37.3h0M351.7,35.8h0M442.1,108.2h0M377.7,142.6h0M380.4,71.4h0M396.0,90.9h0M332.0,134.1h0M437.2,65.0h0M381.1,28.7h0M346.6,44.7h0M468.8,145.7h0M408.6,69.2h0M416.6,112.2h0M426.8,114.2h0M384.4,110.2h0M419.2,114.4h0M476.6,75.5h0M365.4,63.7h0M381.0,32.3h0M353.3,32.5h0M405.0,131.8h0M416.9,80.6h0M390.4,52.2h0M404.5,48.8h0M466.6,137.4h0M361.6,52.2h0M339.0,127.7h0M472.1,109.8h0M484.3,67.9h0M373.2,82.1h0M448.1,142.7h0M432.0,66.3h0M389.6,113.2h0M357.4,141.5h0M400.4,82.8h0M351.6,29.5h0M487.8,62.2h0M390.6,37.8h0M435.3,64.0h0M480.1,75.4h0M389.3,93.6h0M363.5,65.8h0M439.3,80.1h0M463.0,133.4h0M486.8,90.5h0M345.2,50.7h0M474.9,131.6h0M328.2,34.6h0M414.6,28.2h0M417.5,81.4h0M345.9,106.8h0M436.8,30.5h0M425.0,47.3h0M376.9,48.9h0M438.2,46.0h0M420.1,74.1h0M314.5,122.6h0M313.8,126.3h0M480.3,47.8h0M454.0,51.3h0M410.9,86.1h0M494.8,80.3h0M443.7,126.3h0M381.2,125.9h0M376.6,133.6h0M334.0,56.0h0M374.3,52.1h0M452.0,108.2h0M420.6,68.3h0M357.5,132.8h0M454.2,57.0h0M413.3,42.5h0M369.3,72.7h0M434.7,27.8h0M410.1,113.0h0M466.2,108.3h0M337.2,63.7h0M372.9,102.6h0M439.0,45.2h0M378.4,128.0h0M427.3,93.7h0M411.6,104.9h0M350.7,131.0h0M383.0,101.3h0M364.4,106.4h0M383.0,34.0h0M424.5,109.6h0M366.0,57.9h0M410.9,93.1h0M470.0,98.2h0M323.7,50.5h0M458.3,101.1h0M333.6,85.9h0M449.7,99.3h0M335.6,111.3h0M348.6,76.0h0M410.6,111.6h0M469.5,134.6h0M429.5,94.8h0M337.3,109.0h0M438.0,143.1h0M412.0,102.2h0M458.7,112.8h0M369.4,52.4h0M321.0,126.5h0M488.4,67.7h0M379.4,126.4h0M489.5,61.1h0M378.3,68.1h0M354.6,29.3h0M337.0,33.3h0M412.7,120.7h0M385.7,106.3h0M354.9,112.8h0M396.4,105.0h0M448.4,86.9h0M345.8,52.8h0M459.0,116.9h0M424.8,37.2h0M413.2,54.2h0M403.0,59.3h0M461.2,67.2h0M351.0,116.4h0M487.0,94.9h0M403.0,59.3h0M341.0,115.8h0M454.8,147.0h0M417.8,130.4h0M371.1,58.1h0M389.7,82.4h0M342.2,51.3h0M373.9,70.9h0M354.9,67.3h0M405.0,33.2h0M450.2,27.6h0M449.0,62.2h0M405.5,82.7h0M368.9,91.0h0M456.4,89.1h0M376.8,77.8h0M391.1,53.7h0M443.7,71.8h0M383.8,77.6h0M444.5,80.4h0M353.4,102.4h0M361.4,143.1h0M345.7,42.6h0M433.6,54.5h0M473.6,144.8h0M467.0,57.6h0M358.2,112.9h0M425.5,63.0h0M324.8,48.7h0M347.1,60.4h0M400.5,106.4h0M457.7,86.5h0M402.3,42.7h0M429.5,139.7h0M317.8,50.9h0M428.3,131.4h0M465.6,137.0h0M480.1,43.6h0M442.1,29.5h0M484.6,145.0h0M394.2,100.3h0M433.3,125.7h0M466.8,100.6h0M403.3,52.9h0M470.9,36.3h0M361.9,125.7h0M453.5,139.2h0M437.8,37.2h0M449.8,71.8h0M461.4,37.5h0M392.6,78.4h0M362.2,132.9h0M341.8,120.9h0M472.3,127.2h0M391.8,138.7h0M438.6,58.5h0M330.8,44.4h0M446.4,49.2h0M457.4,137.0h0M346.1,90.5h0M375.8,105.3h0M392.6,125.1h0M419.9,137.1h0M466.6,75.6h0M412.7,91.8h0M346.1,122.0h0M371.9,32.4h0M428.2,32.1h0M351.9,73.8h0M341.1,52.2h0M480.9,96.0h0M341.6,50.7h0M387.4,56.4h0M469.5,145.0h0M325.4,35.6h0M408.7,124.1h0M356.9,49.7h0M470.9,61.8h0M335.8,36.4h0M373.9,38.7h0M351.9,134.3h0M446.0,48.9h0M384.5,105.5h0M408.3,96.3h0M392.2,74.0h0M421.0,89.9h0M443.9,49.3h0M408.6,141.7h0M396.3,143.3h0M452.7,37.4h0M430.4,117.5h0M414.1,92.1h0M370.1,88.9h0M479.9,142.3h0M483.2,75.2h0M461.5,105.3h0M454.8,97.7h0M395.5,41.6h0M406.2,111.1h0M333.3,117.5h0M424.5,90.5h0M403.7,146.4h0M421.4,58.5h0M384.4,114.4h0M399.1,86.4h0M457.0,125.2h0M354.5,51.5h0M450.4,142.0h0M371.6,133.3h0M474.7,140.9h0M376.5,69.4h0M499.4,74.3h0M498.3,62.4h0M366.1,81.1h0M343.7,124.0h0M372.8,60.5h0M395.6,42.8h0M441.4,102.1h0M439.5,117.3h0M395.2,106.7h0M414.7,146.4h0M339.1,122.1h0M412.7,87.5h0M481.2,107.9h0M420.4,143.1h0M325.3,39.7h0M316.0,45.3h0M429.0,140.9h0M385.4,127.4h0M383.2,67.4h0M474.4,147.2h0M440.6,145.7h0M409.3,34.4h0M461.9,52.4h0M491.6,102.4h0M417.1,65.9h0M456.0,68.2h0M383.8,77.2h0M476.4,97.1h0M400.8,95.9h0M401.3,72.3h0M382.7,65.1h0M467.3,36.0h0M390.9,93.7h0M340.6,118.9h0M380.0,68.5h0M452.6,34.0h0M361.0,127.4h0M366.3,94.5h0M417.4,46.7h0M371.8,41.1h0M384.7,96.5h0M410.8,82.5h0M438.7,95.3h0M344.6,135.3h0M416.1,68.0h0M415.3,51.1h0M412.1,70.6h0M451.3,107.8h0M468.1,128.6h0M340.0,58.5h0M471.5,104.1h0M345.8,105.3h0M456.7,85.5h0M458.2,145.0h0M390.8,49.1h0M335.5,117.7h0M478.4,69.4h0M449.4,119.6h0M398.2,33.4h0M426.9,93.2h0M362.0,117.9h0M461.5,141.8h0M330.6,121.7h0M388.4,69.8h0M353.5,98.2h0M433.6,44.7h0M437.3,33.6h0M395.7,126.2h0M368.1,68.4h0M368.6,38.8h0M394.2,46.4h0M357.1,39.7h0M477.7,130.4h0M334.9,62.1h0M469.6,46.4h0M455.6,47.3h0M320.0,135.3h0M456.5,74.8h0M446.0,127.8h0M334.7,37.2h0M374.5,142.8h0M401.5,49.5h0M442.9,97.1h0M435.3,130.1h0M362.6,73.2h0M418.4,41.4h0M379.1,123.3h0M388.8,94.1h0M469.3,70.8h0M380.3,29.3h0M448.6,148.0h0M422.6,34.8h0M383.6,66.2h0M466.8,109.3h0M487.7,96.2h0M349.1,127.7h0M342.2,77.6h0M414.2,29.7h0M433.4,30.1h0M419.0,82.1h0M364.4,61.2h0M379.7,55.2h0M495.4,94.2h0M456.7,29.4h0M372.7,122.6h0M375.5,122.9h0M338.1,146.8h0M494.4,99.4h0M418.1,138.6h0M396.1,100.4h0M357.9,74.0h0M327.5,62.5h0M354.3,94.7h0M443.8,94.9h0M461.6,128.2h0M378.6,56.5h0M330.4,33.6h0M405.9,103.1h0M447.4,28.3h0M413.4,129.0h0M485.8,145.0h0M361.5,29.2h0M361.4,50.2h0M396.1,101.3h0M348.5,96.3h0M457.5,49.5h0M434.8,87.4h0M352.9,59.6h0M472.0,73.7h0M397.5,127.3h0M408.1,137.7h0M390.6,60.0h0M336.1,53.0h0M374.1,42.9h0M390.9,98.0h0M471.1,51.2h0M459.1,65.9h0M366.6,37.0h0M370.3,88.3h0M431.0,51.0h0M394.1,101.0h0M487.5,138.7h0M366.2,30.6h0M372.8,70.8h0M470.0,128.0h0M355.9,96.4h0M425.8,27.6h0M376.0,102.5h0M457.4,61.4h0M323.8,76.5h0M357.8,58.7h0M477.0,80.6h0M356.4,132.8h0M392.1,91.6h0M353.7,139.2h0M389.8,144.5h0M439.0,97.1h0M439.8,79.8h0M463.4,53.8h0M470.1,52.0h0M406.4,46.3h0M377.1,147.0h0M472.9,143.1h0M434.5,126.8h0M484.7,47.1h0M403.7,79.2h0M369.7,37.1h0M323.2,120.3h0M480.6,90.0h0M448.5,39.7h0M438.2,36.6h0M376.5,77.0h0M359.2,53.0h0M406.4,118.1h0M359.5,102.2h0M435.2,139.1h0M474.0,68.8h0M357.4,107.3h0M407.9,46.5h0M425.4,37.0h0M382.5,107.6h0M338.7,130.1h0M457.3,61.7h0M393.5,83.2h0M353.2,103.4h0M345.8,54.5h0M473.6,136.9h0M485.7,44.2h0M384.0,110.4h0M500.9,58.7h0M383.6,68.0h0M479.5,79.8h0M453.7,93.6h0M385.3,51.2h0M338.2,65.2h0M420.1,58.1h0M379.9,65.3h0M447.0,47.6h0M488.0,62.4h0M346.5,44.6h0M377.1,96.4h0M479.7,123.9h0M401.9,129.9h0M345.0,47.1h0M371.0,82.9h0M383.1,71.4h0M414.1,36.4h0M459.2,129.7h0M457.9,118.9h0M368.8,32.3h0M456.7,123.6h0M473.4,65.9h0M447.4,51.4h0M444.9,61.9h0M401.9,84.9h0M357.6,90.9h0M416.4,29.1h0M335.9,59.1h0M350.8,100.6h0M347.3,68.8h0M364.6,63.9h0M364.8,110.0h0M423.7,30.5h0M395.8,67.1h0M471.3,119.9h0M448.5,48.4h0M349.5,117.7h0M470.3,56.2h0M391.3,117.3h0M357.2,44.1h0M361.5,57.5h0M456.0,136.2h0M371.7,78.0h0M466.3,93.1h0M386.3,139.6h0M350.6,39.8h0M372.8,103.7h0M324.6,80.1h0M412.3,98.4h0M432.2,56.0h0M442.1,111.4h0M348.8,68.1h0M435.3,102.8h0M465.8,108.9h0M422.8,34.2h0M388.5,69.7h0M427.0,99.2h0M375.1,145.6h0M481.4,148.5h0M392.1,34.1h0M410.1,89.4h0M470.0,141.2h0M338.3,39.1h0M468.0,84.8h0M319.0,129.4h0M410.2,146.3h0M395.7,145.5h0M351.9,120.5h0M470.0,84.1h0M338.7,109.5h0M409.5,76.3h0M396.1,103.8h0M429.1,49.1h0M377.7,62.2h0M477.6,96.7h0M436.5,28.7h0M399.6,77.3h0M352.9,55.7h0M433.2,124.6h0M332.9,28.2h0M428.7,146.7h0M421.7,84.2h0M489.9,87.3h0M470.5,145.7h0M396.1,95.8h0M470.8,92.6h0M464.2,133.2h0M498.7,72.8h0M353.7,65.9h0M438.6,46.6h0M415.9,71.4h0M439.2,141.2h0M422.3,70.5h0M381.7,27.8h0M428.4,50.4h0M350.0,82.5h0M331.0,61.6h0M390.4,38.6h0M464.6,117.2h0M454.5,38.1h0M417.1,45.5h0M332.8,53.0h0M464.0,141.2h0M497.6,90.4h0M373.4,132.5h0M394.8,117.4h0M366.5,28.7h0M389.3,34.4h0M375.8,78.1h0M348.5,32.2h0M475.1,123.8h0M436.5,109.2h0M390.2,69.9h0M439.4,74.8h0M373.5,135.2h0M381.1,57.1h0M361.9,90.9h0M393.6,60.7h0M471.2,78.1h0M331.7,133.8h0M433.7,82.6h0M418.6,140.6h0M358.6,52.6h0M440.7,34.1h0M318.6,82.1h0M415.4,74.2h0M394.7,42.0h0M379.6,67.5h0M400.8,133.0h0M382.4,108.8h0M342.9,89.6h0M393.2,78.0h0M398.9,90.5h0M454.6,141.2h0M360.3,35.6h0M393.8,96.7h0M431.6,40.7h0M427.5,29.2h0M441.0,120.2h0M408.1,91.8h0M373.0,51.1h0M430.5,104.1h0M404.3,40.4h0M320.2,42.0h0M482.1,97.6h0M403.7,68.9h0M402.5,50.6h0M460.9,138.7h0M348.1,37.7h0M444.5,33.1h0M387.2,127.2h0M403.6,87.0h0M344.6,48.6h0M352.5,30.7h0M349.0,35.8h0M436.2,36.1h0M382.3,74.2h0M456.2,129.9h0M398.4,110.4h0M343.5,67.8h0M368.6,35.8h0M364.0,62.5h0M428.1,116.7h0M313.9,44.4h0M362.2,69.5h0M411.8,37.2h0M371.4,128.8h0M442.8,136.4h0M426.4,74.6h0M474.2,140.3h0M436.0,94.4h0M374.8,39.1h0M377.6,88.2h0M476.6,144.0h0M403.3,48.9h0M384.9,126.7h0M350.4,72.6h0M344.0,61.4h0M411.2,133.9h0M378.4,140.9h0M333.3,55.4h0M439.9,58.4h0M417.1,141.7h0M336.8,103.1h0M446.0,124.1h0M357.0,68.7h0M443.1,42.6h0M447.9,84.0h0M406.3,44.6h0M352.9,33.0h0M396.0,75.7h0M441.1,30.6h0M431.6,82.8h0M456.4,112.2h0M373.7,123.9h0M479.1,70.1h0M350.1,68.0h0M338.1,107.0h0M495.1,70.0h0M449.8,83.7h0M476.6,118.8h0M372.6,105.4h0M410.7,141.0h0M423.4,33.8h0M401.5,52.9h0M370.7,50.4h0M467.7,137.7h0M436.2,79.5h0M336.1,100.2h0M391.2,56.7h0M469.4,58.9h0M475.0,138.0h0M441.7,47.4h0M357.3,68.0h0M368.1,53.6h0M427.8,103.9h0M386.7,146.5h0M398.6,78.4h0M355.3,121.4h0M417.6,66.9h0M411.5,119.8h0M471.4,68.9h0M472.4,92.0h0M464.4,45.2h0M348.7,128.7h0M333.5,49.9h0M368.9,39.3h0M464.5,102.1h0M418.8,41.0h0M351.3,29.5h0M352.7,51.4h0M347.7,56.3h0M372.8,136.4h0M453.7,46.7h0M417.8,76.7h0M390.3,44.3h0M335.6,63.2h0M422.3,84.0h0M412.2,63.4h0M426.0,116.1h0M419.4,37.8h0M433.1,27.9h0M471.1,144.1h0M337.1,73.2h0M453.4,38.3h0M355.6,77.1h0M472.1,108.4h0M429.8,113.8h0M456.6,116.6h0M444.5,49.7h0M426.0,109.7h0M417.4,34.6h0M345.6,100.4h0M479.9,142.8h0M325.9,35.9h0M429.9,66.9h0M325.6,51.2h0M328.5,37.1h0M365.3,68.6h0M371.6,146.6h0M442.6,126.8h0M393.6,120.4h0M459.9,82.1h0M395.1,62.5h0M477.9,31.2h0M406.3,83.5h0M328.9,41.2h0M351.5,72.3h0M370.0,95.0h0M357.8,64.4h0M382.6,91.4h0M452.3,136.4h0M417.3,122.7h0M411.2,139.9h0M337.3,57.6h0M314.9,123.6h0M427.1,67.4h0M476.1,90.1h0M429.7,114.2h0M428.6,54.0h0M365.6,105.3h0M366.9,143.5h0M368.1,136.6h0M468.2,144.7h0M391.8,38.2h0M431.3,67.5h0M349.3,104.8h0M469.0,146.0h0M359.6,75.0h0M336.4,124.8h0M404.5,50.1h0M354.2,115.4h0M455.7,60.5h0M413.0,119.9h0M473.8,99.3h0M352.1,63.5h0M418.5,123.5h0M461.4,29.2h0M477.1,81.0h0M410.3,123.7h0M441.1,66.4h0M476.4,132.0h0M409.1,30.1h0M338.1,118.4h0M440.7,34.0h0M347.2,113.9h0M478.6,122.3h0M401.0,115.6h0M386.5,103.4h0M337.4,122.4h0M462.0,102.3h0M436.8,112.4h0M467.6,126.6h0M481.6,83.0h0M396.8,113.7h0M470.2,78.5h0M471.8,101.5h0M478.1,118.4h0M446.1,148.8h0M397.1,35.3h0M437.7,89.6h0M388.8,142.7h0M419.4,57.4h0M385.2,137.3h0M458.8,93.0h0M402.8,97.7h0M402.8,88.4h0M437.6,56.2h0M353.5,90.5h0M324.8,117.8h0M431.6,58.2h0M465.1,118.6h0M356.0,93.8h0M477.3,74.5h0M414.6,67.1h0M391.3,68.8h0M315.8,122.2h0M457.0,132.8h0M326.1,115.8h0M340.9,132.9h0M455.0,45.3h0M332.2,114.0h0M350.5,111.6h0M398.9,125.6h0M409.3,72.2h0M467.7,87.1h0M468.5,47.7h0M371.7,36.2h0M364.1,131.4h0M376.9,54.7h0M381.3,122.1h0M419.5,130.4h0M379.7,139.9h0M451.4,114.0h0M471.6,136.0h0M480.2,93.7h0M471.4,52.0h0M464.0,68.7h0M474.7,139.8h0M462.7,117.8h0M409.1,97.7h0M454.4,128.4h0M346.9,96.1h0M451.1,115.7h0M449.4,36.7h0M369.8,108.4h0M404.9,95.2h0M486.8,144.4h0M408.1,30.2h0M419.6,38.7h0M459.7,113.2h0M473.4,125.8h0M427.8,120.9h0M365.4,96.8h0M367.1,49.0h0M446.2,125.7h0M454.7,135.7h0M463.7,144.9h0M416.3,28.7h0M458.3,54.0h0M474.1,73.9h0M398.7,69.2h0M344.2,85.0h0M391.7,58.3h0M373.5,119.0h0M476.0,49.7h0M386.7,100.5h0M465.8,139.7h0M404.9,92.5h0M353.3,56.3h0M413.2,69.2h0M348.6,29.1h0M349.9,61.1h0M352.5,50.2h0M438.3,130.7h0M442.0,147.7h0M378.5,139.5h0M488.5,61.6h0M401.7,67.6h0M406.6,89.1h0M340.9,39.1h0M396.6,66.9h0M348.8,78.1h0M494.1,109.5h0M390.7,50.3h0M350.8,116.8h0M423.2,76.1h0M395.7,98.1h0M466.7,131.8h0M417.6,117.2h0M372.9,69.5h0M406.9,33.7h0M433.2,35.9h0M462.9,134.1h0M462.4,143.2h0M335.0,52.0h0M470.2,141.5h0M463.7,131.3h0M407.4,29.7h0M387.6,59.6h0M386.6,41.2h0M377.3,49.2h0M443.4,51.5h0M326.4,48.8h0M339.3,74.0h0M440.3,86.8h0M434.4,115.0h0M484.6,146.2h0M396.6,87.3h0M382.2,80.6h0M413.0,132.6h0M401.3,72.5h0M481.0,73.7h0M485.4,105.4h0M351.0,34.3h0M393.7,49.3h0M475.7,121.3h0M409.5,122.2h0M388.8,125.5h0M460.5,45.0h0M448.1,71.9h0M330.2,48.5h0M385.1,36.5h0M386.0,61.1h0M379.7,128.3h0M374.8,130.3h0M376.0,103.5h0M459.6,132.3h0M382.6,62.0h0M466.6,56.6h0M481.4,116.5h0M392.3,39.0h0M397.4,74.7h0M316.5,42.2h0M401.6,113.7h0M321.8,37.3h0M490.5,100.8h0M430.6,53.4h0M493.6,90.0h0M408.9,82.6h0M410.1,67.3h0M412.7,132.2h0M343.4,74.3h0M463.7,68.3h0M412.3,131.0h0M364.9,45.3h0M454.4,73.4h0M356.5,86.4h0M403.1,80.6h0M451.0,70.0h0M481.0,115.9h0M370.7,105.1h0M442.5,130.1h0M470.1,69.9h0M359.4,140.7h0M363.6,50.7h0M380.0,140.5h0M393.2,85.3h0M359.1,134.0h0M472.7,68.4h0M333.5,43.6h0M469.2,92.1h0M391.2,55.9h0M439.7,96.7h0M457.7,46.6h0M431.4,31.3h0M463.4,45.3h0M394.9,68.9h0M444.0,117.8h0M457.5,62.7h0M390.0,115.9h0M408.1,86.4h0M473.5,101.9h0M462.4,138.5h0M461.9,132.2h0M341.0,49.7h0M456.5,146.4h0M342.9,119.0h0M370.7,65.9h0M470.0,135.3h0M466.9,85.6h0M421.7,112.0h0M418.7,95.4h0M336.5,127.5h0M351.4,104.1h0M424.2,55.1h0M453.3,32.1h0M417.1,56.7h0M457.2,146.5h0M362.2,33.5h0M436.8,103.0h0M389.0,113.0h0M389.2,66.4h0M451.8,147.5h0M409.5,148.0h0M401.1,43.0h0M357.6,97.7h0M424.4,93.6h0M449.2,108.6h0M399.7,130.7h0M328.2,59.0h0M364.2,124.0h0M487.6,104.9h0M414.2,129.3h0M417.0,67.8h0M409.1,133.5h0M362.3,90.8h0M472.3,83.8h0M357.6,98.2h0M405.4,85.9h0M442.3,141.8h0M389.9,55.9h0M336.0,64.3h0M409.0,77.2h0M478.6,82.5h0M436.9,45.4h0M380.2,113.1h0M424.6,59.9h0M401.5,89.5h0M415.5,89.8h0M422.8,48.3h0M385.0,37.8h0M452.5,132.5h0M480.2,53.2h0M404.1,43.4h0M352.6,105.5h0M379.9,145.4h0M319.6,37.0h0M467.3,131.6h0M356.0,29.0h0M313.7,123.7h0M391.7,33.4h0M441.5,125.5h0M322.5,51.6h0M479.9,142.3h0M451.4,114.7h0M395.5,110.4h0M348.1,95.5h0M412.1,116.9h0M427.7,107.3h0M378.8,130.0h0M414.8,46.1h0M469.4,106.4h0M473.8,145.2h0M451.7,124.4h0M368.1,103.6h0M397.7,85.8h0M462.0,145.9h0M361.5,118.4h0M446.0,53.7h0M354.5,36.7h0M420.8,30.4h0M454.2,94.6h0M381.5,69.0h0M396.5,97.6h0M444.2,129.1h0M472.0,135.7h0M393.7,100.0h0M404.1,128.0h0M368.2,115.2h0M420.0,133.5h0M455.3,40.3h0M316.0,75.4h0M480.0,114.5h0M377.7,101.6h0M485.1,46.8h0M367.7,50.2h0M474.2,109.9h0M372.3,62.8h0M452.5,124.6h0M412.2,76.4h0M391.0,35.7h0M463.6,50.9h0M346.5,39.2h0M353.0,110.2h0M417.2,112.0h0M464.8,143.8h0M358.2,64.3h0M352.2,79.3h0M402.3,119.2h0M458.9,75.9h0M451.6,136.3h0M349.0,36.6h0M323.8,133.0h0M329.2,119.3h0M399.9,36.9h0M371.7,71.4h0M475.3,104.0h0M401.7,59.8h0M414.5,66.6h0M417.4,128.7h0M462.8,36.8h0M396.2,52.7h0M329.6,51.0h0M469.0,141.7h0M474.4,128.0h0M330.9,134.9h0M371.6,40.7h0M467.2,41.2h0M350.3,112.4h0M396.7,88.2h0M353.4,89.5h0M332.7,62.3h0M393.9,28.7h0M457.6,132.3h0M471.0,141.1h0M474.3,111.5h0M478.3,48.8h0M469.5,65.1h0M465.3,136.3h0M340.3,61.5h0M335.7,109.2h0M471.2,132.8h0M380.4,92.4h0M359.5,55.5h0M417.2,38.2h0M408.1,90.9h0M325.5,116.8h0M410.6,30.4h0M447.1,101.9h0M401.8,106.8h0M457.4,136.6h0M471.4,140.5h0M413.6,63.2h0M342.0,64.4h0M407.7,117.1h0M436.9,60.2h0M419.8,146.1h0M357.8,99.7h0M471.2,48.1h0M370.3,50.0h0M377.0,72.7h0M369.2,49.0h0M394.5,72.5h0M356.7,86.5h0M327.4,34.6h0M395.8,130.0h0M400.6,135.9h0M473.6,127.4h0M438.7,127.8h0M482.7,103.7h0M412.2,139.7h0M363.8,122.1h0M429.6,144.2h0M411.5,56.5h0M394.7,108.2h0M390.8,65.8h0M344.4,134.4h0M362.7,74.5h0M320.5,92.2h0M453.6,59.7h0M339.4,44.6h0M479.3,108.7h0M407.9,31.2h0M423.2,90.3h0M471.3,141.4h0M455.4,116.2h0M449.1,61.7h0M469.3,143.6h0M452.7,35.9h0M453.0,52.4h0M346.3,115.7h0M325.6,45.7h0M395.7,101.6h0M470.5,133.1h0M338.6,47.2h0M457.0,147.0h0M317.2,50.4h0M373.3,46.2h0M422.2,121.3h0M358.5,131.9h0M393.7,52.8h0M377.3,125.0h0M425.7,116.1h0M459.2,142.1h0M383.4,74.7h0M462.5,139.6h0M429.9,50.9h0M482.6,144.3h0M434.8,115.4h0M352.3,34.6h0M452.2,100.1h0M449.0,76.6h0M380.4,51.1h0M369.4,120.5h0M458.8,63.3h0M430.7,42.4h0M347.6,115.5h0M425.7,142.7h0M363.4,27.3h0M410.7,36.5h0M347.7,137.8h0M400.6,133.9h0M452.9,120.9h0M389.4,47.8h0M418.5,68.1h0M324.1,36.5h0M384.3,132.8h0M470.1,146.4h0M467.7,144.5h0M461.4,128.0h0M379.6,138.9h0M461.6,45.9h0M404.9,144.5h0M416.8,40.4h0M479.3,91.3h0M402.8,44.7h0M456.9,143.4h0M467.3,134.1h0M365.0,122.0h0M329.4,118.6h0M365.9,98.8h0M361.0,55.9h0M473.5,135.9h0M358.0,99.9h0M462.3,62.1h0M421.7,83.6h0M379.5,142.5h0M413.8,74.4h0M373.6,62.1h0M422.2,58.2h0M349.9,123.7h0M339.9,95.1h0M431.7,32.2h0M359.3,45.9h0M351.1,126.5h0M417.4,66.6h0M406.4,39.5h0M496.4,68.5h0M365.8,97.4h0M414.9,139.2h0M464.9,144.9h0M416.5,114.2h0M428.4,90.6h0M377.9,78.9h0M384.3,61.1h0M396.4,140.6h0M357.3,55.1h0M406.2,126.0h0M388.2,125.0h0M412.9,78.0h0M358.4,98.5h0M426.5,117.8h0M480.7,120.3h0M419.9,124.0h0M383.1,54.7h0M313.5,44.1h0M385.1,47.4h0M447.8,83.7h0M449.1,129.3h0M457.2,57.5h0M454.2,131.3h0M464.7,100.2h0M442.2,96.5h0M353.2,110.1h0M485.2,79.6h0M394.9,91.0h0M441.0,84.1h0M341.8,105.9h0M413.6,61.5h0M324.5,55.8h0M476.3,140.2h0M472.2,130.0h0M475.0,133.7h0M389.5,48.6h0M476.9,148.1h0M373.1,134.5h0M423.3,50.2h0M473.6,127.6h0M354.7,141.4h0M451.3,148.4h0M361.1,64.8h0M391.1,67.9h0M365.6,134.4h0M381.9,115.8h0M449.9,110.0h0M477.6,128.9h0M382.7,52.9h0M411.6,92.1h0M402.6,115.5h0M420.8,33.5h0M342.1,54.0h0M365.9,70.8h0M383.3,48.1h0M417.2,121.7h0M339.3,120.2h0M363.6,127.3h0M477.8,93.6h0M329.7,47.6h0M348.3,82.2h0M455.7,65.0h0M473.7,132.0h0M396.3,67.3h0M437.0,119.9h0M470.8,127.4h0M455.1,115.7h0M397.4,127.8h0M433.9,135.8h0M339.6,114.2h0M500.6,85.1h0M383.4,128.3h0M456.9,31.4h0M472.0,107.0h0M452.0,141.6h0M359.0,137.6h0M455.0,55.9h0M468.3,104.0h0M467.6,131.5h0M446.4,107.1h0M387.2,112.8h0M472.0,111.8h0M414.4,69.5h0M429.9,128.0h0M366.6,79.6h0M386.0,90.6h0M342.5,61.5h0M479.7,68.3h0M420.5,48.5h0M383.0,67.1h0M468.8,136.6h0M464.0,53.6h0M477.9,96.8h0M417.9,62.6h0M323.7,130.0h0M357.3,61.6h0M332.6,47.2h0M343.5,53.6h0M481.8,127.6h0M349.7,42.5h0M439.3,138.9h0M487.2,105.0h0M469.7,129.7h0M447.0,140.2h0M421.7,44.9h0M459.7,28.6h0M359.0,47.3h0M348.5,41.5h0M390.2,55.8h0M460.3,141.7h0M373.5,135.2h0M382.7,129.6h0M395.1,94.1h0M341.8,77.0h0M454.4,143.1h0M376.9,30.9h0M472.9,132.5h0M403.2,143.8h0M499.2,139.0h0M478.5,46.2h0M345.3,110.6h0M375.5,39.3h0M341.6,83.4h0M366.3,132.7h0M471.1,135.2h0M376.5,79.6h0M429.0,129.6h0M415.6,78.1h0M428.2,146.4h0M486.8,124.3h0M388.3,28.4h0M398.6,120.0h0M437.8,134.7h0M467.3,43.1h0M383.2,35.2h0M443.9,103.8h0M472.1,132.6h0M459.6,84.4h0M409.1,73.0h0M467.9,130.5h0M461.2,115.0h0M470.4,70.3h0M360.2,104.2h0M468.1,92.8h0M463.1,141.4h0M422.0,68.5h0M418.6,66.7h0M364.1,37.9h0M470.6,130.4h0M459.5,126.3h0M412.5,90.0h0M381.3,83.6h0M469.2,134.2h0M475.8,148.1h0M457.6,147.1h0M428.0,70.7h0M388.8,107.0h0M359.4,53.8h0M404.8,98.7h0M470.3,36.3h0M410.5,147.6h0M413.2,33.2h0M473.6,120.3h0M374.4,105.0h0M382.4,50.4h0M450.0,57.0h0M472.9,134.4h0M476.1,145.0h0M330.2,131.7h0M462.8,125.0h0M454.4,148.3h0M477.1,63.5h0M384.9,121.4h0M447.6,116.8h0M498.3,72.9h0M352.2,72.2h0M409.0,64.0h0M487.1,76.9h0M352.9,88.0h0M436.7,60.7h0M334.4,52.3h0M471.4,129.1h0M497.8,135.7h0M411.3,80.8h0M379.0,30.2h0M349.4,63.7h0M408.4,118.3h0M391.5,101.6h0M364.4,96.1h0M381.9,120.9h0M474.1,127.0h0M364.3,137.5h0M459.6,128.4h0M468.3,94.4h0M403.0,54.2h0M343.1,120.9h0M464.2,126.5h0M415.8,32.5h0M320.2,143.5h0M404.4,97.3h0M483.8,64.4h0M473.9,54.3h0M354.0,128.3h0M425.3,119.0h0M355.5,65.6h0M375.6,75.4h0M397.2,63.1h0M493.1,100.9h0M327.5,40.7h0M475.2,137.2h0M464.4,148.4h0M499.7,134.9h0M412.2,51.9h0M350.1,137.0h0M394.3,78.5h0M401.1,63.6h0M473.6,144.8h0M460.6,145.5h0M412.4,129.9h0M374.2,31.6h0M452.6,131.0h0M500.6,91.3h0M478.8,142.9h0M432.8,97.6h0M462.8,118.3h0M490.6,79.2h0M424.7,128.1h0M484.3,145.3h0M399.8,141.4h0M374.6,95.5h0M446.0,38.6h0M493.4,75.3h0M497.1,97.0h0M391.4,39.3h0M389.6,38.8h0M409.6,147.1h0M454.7,133.8h0M455.5,93.6h0M413.4,69.7h0M384.8,141.5h0M452.8,130.9h0M416.8,43.9h0M434.5,72.7h0M380.7,96.9h0M373.8,85.2h0M342.7,67.2h0M336.6,108.6h0M333.6,35.9h0M390.5,31.0h0M441.8,83.4h0M381.0,60.7h0M371.9,109.1h0M376.3,36.7h0M474.5,136.8h0M379.3,89.8h0M347.8,121.2h0M467.5,142.5h0M347.1,77.3h0M484.5,76.9h0M413.5,115.8h0M443.8,139.0h0M358.4,138.7h0M488.3,45.2h0M403.2,112.8h0M449.3,96.1h0M421.1,133.3h0M471.0,143.5h0M416.5,132.6h0M406.5,103.7h0M492.3,73.5h0M402.5,126.7h0M465.5,144.7h0M367.7,27.8h0M376.0,134.6h0M376.2,59.1h0M457.6,107.9h0" stroke="#9a9a9a" stroke-width="3.0" stroke-linecap="round" fill="none" opacity="0.2" filter="url(#hz)"/>
<g filter="url(#bl)" fill="none" stroke-linecap="round">
<path d="M349.2,56.7h0M372.7,55.2h0M455.8,41.6h0M324.7,124.1h0M338.1,105.5h0M375.2,63.3h0M351.8,29.3h0M423.2,44.4h0M428.8,139.1h0M370.0,109.7h0M422.9,65.8h0M365.5,47.8h0M497.8,82.3h0M317.1,43.8h0M469.2,56.1h0M442.0,51.5h0M378.9,37.4h0M325.5,124.5h0M461.4,44.4h0M482.5,85.2h0M333.2,116.1h0M360.5,51.3h0M392.6,123.3h0M349.0,35.9h0M457.0,67.0h0M452.3,76.5h0M452.2,58.5h0M350.2,72.9h0M343.5,84.6h0M369.1,29.0h0M399.0,52.0h0M460.7,103.2h0M432.3,118.8h0M320.9,34.7h0M430.6,120.7h0M331.7,133.6h0M369.6,121.5h0M443.8,61.7h0M382.1,71.4h0M435.7,125.0h0M411.4,120.2h0M499.5,72.9h0M435.1,121.6h0M320.3,40.5h0M355.5,49.8h0M493.1,85.9h0M436.9,56.2h0M427.3,46.4h0M343.1,128.4h0M352.3,102.2h0M414.8,63.5h0M424.8,38.2h0M385.9,67.6h0M435.6,40.2h0M461.5,127.6h0M431.2,51.3h0M348.3,93.9h0M464.4,29.3h0M326.6,42.4h0M412.3,56.4h0M496.9,84.7h0M489.5,81.4h0M371.2,113.6h0M461.1,123.4h0M421.0,133.4h0M415.5,123.5h0M330.1,127.0h0M340.1,75.0h0M456.8,116.5h0M385.0,122.2h0M348.0,94.1h0M353.8,84.1h0M381.6,60.7h0M447.7,59.9h0M449.3,137.5h0M355.9,62.8h0M432.2,38.2h0M406.8,61.3h0M358.5,38.6h0M417.3,112.4h0M381.9,34.9h0M374.6,58.1h0M430.0,77.2h0M405.6,95.8h0M454.1,92.2h0M374.5,48.9h0M360.8,114.3h0M416.0,124.5h0M405.1,41.9h0M364.9,54.9h0M371.6,36.8h0M449.6,48.7h0M371.7,89.8h0M441.2,48.8h0M379.3,79.6h0M491.4,66.5h0M382.2,39.5h0M475.8,128.6h0M394.4,29.2h0M443.3,116.8h0M393.2,126.9h0M439.6,57.0h0M401.6,71.3h0M352.8,72.2h0M450.7,121.6h0M368.7,121.8h0M323.7,53.7h0M494.4,77.5h0M342.9,91.8h0M362.0,72.0h0M322.8,128.8h0M416.3,75.9h0M383.3,65.5h0M454.2,86.5h0M424.1,65.6h0M455.0,33.7h0M396.2,118.6h0M438.6,93.9h0M351.4,69.4h0M363.2,57.6h0M361.1,62.9h0M404.5,60.4h0M461.3,55.7h0M460.8,90.6h0M348.1,91.3h0M350.6,113.0h0M496.0,95.5h0M428.6,140.7h0M476.6,143.6h0M357.5,134.4h0M348.1,55.5h0M398.7,72.5h0M378.7,33.3h0M487.0,88.5h0M388.7,33.6h0M451.7,53.0h0M400.8,49.5h0M486.7,89.8h0M432.1,83.5h0M407.9,68.9h0M346.6,126.3h0M405.8,74.0h0M376.1,61.2h0M402.3,117.8h0M422.5,56.6h0M349.0,120.4h0M337.6,34.0h0M397.7,71.7h0M370.5,121.2h0M362.2,101.8h0M443.1,128.0h0M380.8,92.6h0M488.7,57.6h0M376.8,134.0h0M477.2,54.8h0M423.0,38.9h0M444.0,66.5h0M418.9,70.5h0M368.3,59.0h0M481.0,54.5h0M453.3,82.5h0M440.0,53.6h0M339.9,51.8h0M402.4,143.7h0M440.1,35.3h0M328.2,132.4h0M323.2,127.6h0M426.4,138.6h0M367.3,50.5h0M433.7,47.7h0M408.8,74.4h0M428.9,50.8h0M480.1,98.7h0M444.8,139.7h0M436.6,144.0h0M374.1,101.0h0M350.8,94.9h0M489.1,78.4h0M343.9,31.6h0M318.3,55.2h0M426.8,127.4h0M432.3,84.2h0M404.3,75.7h0M456.8,81.3h0M340.5,122.1h0M450.1,83.6h0M434.5,71.6h0M386.0,105.4h0M370.3,73.3h0M433.3,135.7h0M379.7,84.8h0M374.7,50.6h0M462.2,100.6h0M425.9,66.1h0M330.8,44.9h0M391.0,90.5h0M361.8,109.4h0M467.0,141.2h0M484.3,84.9h0M340.7,32.8h0M471.0,73.7h0M449.4,123.4h0M370.3,82.2h0M351.1,125.1h0M409.2,33.5h0M377.4,54.9h0M376.5,87.0h0M396.8,91.2h0M371.1,134.6h0M364.8,109.0h0M372.1,29.7h0M450.7,129.5h0M472.8,127.1h0M464.1,83.5h0M441.2,93.9h0M388.2,57.1h0M400.3,136.3h0M331.8,64.4h0M377.2,146.0h0M363.4,92.3h0M471.2,147.5h0M391.1,91.2h0M454.6,146.6h0M430.3,143.4h0M355.0,45.2h0M478.7,70.3h0M362.8,127.2h0M443.9,54.5h0M352.7,27.8h0M335.0,105.4h0M468.7,44.0h0M470.2,128.0h0M402.4,147.1h0M390.1,44.9h0M336.0,36.9h0M490.6,99.1h0M352.3,52.2h0M465.1,133.2h0M340.2,119.0h0M475.7,114.8h0M417.2,56.0h0M329.5,55.0h0M457.7,62.3h0M430.1,74.0h0M403.8,47.5h0M399.8,47.2h0M405.0,62.3h0M363.1,133.0h0M330.8,147.3h0M467.1,60.8h0M406.5,129.8h0M439.9,56.5h0M364.8,98.7h0M398.9,89.2h0M434.6,39.8h0M341.1,116.3h0M416.9,40.1h0M335.7,54.2h0M483.8,144.5h0M348.2,35.6h0M443.0,94.4h0M479.8,66.0h0M381.9,28.6h0M477.5,49.1h0M473.9,94.3h0M341.5,58.0h0M342.7,74.1h0M381.4,46.8h0M492.9,81.9h0M493.2,69.6h0M439.3,141.6h0M440.1,38.5h0M370.6,49.4h0M328.4,44.3h0M386.6,127.8h0M411.2,62.6h0M414.7,110.1h0M377.9,106.9h0M393.8,91.2h0M344.6,59.7h0M360.7,142.9h0M453.7,117.3h0M430.2,104.7h0M451.1,40.8h0M473.5,103.8h0M470.6,129.7h0M454.4,28.5h0M451.3,119.9h0M395.8,53.6h0M451.4,94.4h0M461.1,35.0h0M369.2,127.4h0M411.6,64.3h0M363.5,103.4h0M377.4,66.2h0M440.7,36.9h0M432.5,96.1h0M488.5,102.8h0M323.3,129.5h0M355.0,77.2h0M494.0,50.0h0M357.4,56.3h0M430.6,28.0h0M371.5,35.5h0M379.6,117.2h0M369.8,50.4h0M447.5,104.6h0M464.6,148.5h0M366.1,39.6h0M420.6,66.5h0M442.2,126.3h0M458.8,116.8h0M433.7,143.0h0M449.5,38.4h0M391.3,67.8h0M335.5,102.7h0M331.0,61.5h0M436.2,139.9h0M352.8,116.9h0M321.1,56.2h0M338.4,50.1h0M470.0,128.7h0M477.5,52.9h0M387.5,130.9h0M373.7,33.0h0M460.1,113.9h0M432.0,134.7h0M390.6,137.4h0M462.5,65.6h0M369.1,119.6h0M380.1,103.0h0M431.7,68.9h0M431.7,138.0h0M401.3,124.4h0M426.0,106.9h0M430.5,74.7h0M356.2,111.7h0M439.0,117.4h0M335.2,42.0h0M351.4,134.1h0M394.6,130.3h0M485.3,81.2h0M406.2,124.7h0M356.7,126.5h0M441.3,50.8h0M460.4,131.7h0M383.4,37.5h0M424.4,141.5h0M428.1,89.4h0M365.9,106.0h0M333.4,112.0h0M382.9,32.0h0M412.5,73.7h0M370.5,78.0h0M427.9,43.2h0M406.3,132.9h0M365.7,51.4h0M497.9,59.0h0M499.4,65.2h0M379.9,134.6h0M381.7,82.9h0M363.0,36.7h0M381.1,89.1h0M394.4,122.6h0M328.9,32.0h0M377.8,90.0h0M316.0,132.2h0M444.7,97.0h0M485.9,103.2h0M476.7,76.5h0M344.9,117.1h0M347.4,108.4h0M458.3,141.0h0M417.6,55.6h0M443.2,71.9h0M446.9,134.7h0M320.6,37.6h0M347.4,88.2h0M397.1,88.2h0M435.9,62.8h0M416.3,96.5h0M354.6,128.4h0M400.7,117.4h0M360.2,32.9h0M433.0,131.3h0M392.3,47.2h0M442.0,40.1h0M448.4,89.1h0M395.7,63.7h0M498.7,113.2h0M469.2,114.3h0M352.8,29.6h0M444.3,47.2h0M457.3,103.7h0M455.8,132.9h0M380.4,39.4h0M497.2,125.3h0M399.7,84.4h0M361.9,60.0h0M445.2,35.4h0M403.9,78.2h0M362.8,64.5h0M405.5,59.5h0M371.4,89.9h0M430.0,127.0h0M413.8,92.8h0M489.5,55.9h0M334.5,117.3h0M361.6,43.0h0M466.0,122.9h0M453.9,99.1h0M437.2,64.4h0M446.6,57.0h0M381.0,86.2h0M421.9,42.4h0M450.2,146.2h0M435.2,55.5h0M467.9,121.1h0M377.8,137.6h0M404.6,62.6h0M418.9,94.3h0M361.4,146.9h0M466.2,138.6h0M345.3,125.2h0M327.0,119.0h0M443.4,136.8h0M378.8,92.8h0M371.7,138.0h0M352.4,70.1h0M370.5,41.1h0M359.7,129.4h0M367.2,96.2h0M364.6,122.6h0M448.6,100.5h0M347.0,137.6h0M375.0,43.3h0M425.0,117.3h0M357.0,104.4h0M329.6,128.0h0M461.6,123.8h0M387.1,54.2h0M332.6,130.1h0M458.5,73.0h0M395.2,99.0h0M405.3,70.0h0M464.0,121.3h0M396.1,34.6h0M452.9,93.4h0M470.8,57.2h0M338.4,28.6h0M388.0,94.0h0M407.5,108.8h0M455.9,44.7h0M379.1,142.2h0M406.3,67.9h0M430.3,71.3h0M482.2,65.0h0M378.5,138.7h0M462.6,118.0h0M359.6,100.5h0M446.9,112.1h0M453.3,52.1h0M345.4,59.2h0M339.8,48.9h0M425.9,60.1h0M338.5,61.0h0M352.9,50.5h0M429.0,137.6h0M353.0,34.8h0M340.4,134.7h0M386.3,83.3h0M424.2,115.5h0M352.2,66.4h0M364.9,49.6h0M437.0,139.8h0M478.5,44.6h0M361.2,137.5h0M487.0,96.8h0M430.0,142.7h0M464.6,50.5h0M406.5,95.6h0M362.7,50.9h0M455.6,57.3h0M474.8,113.9h0M438.2,86.6h0M420.7,120.8h0M335.3,48.3h0M463.4,139.5h0M460.9,130.3h0M423.6,69.5h0M381.9,111.7h0M426.7,50.7h0M405.2,41.7h0M485.7,99.9h0M455.3,36.6h0M346.0,83.0h0M424.0,80.3h0M403.6,37.8h0M386.1,58.1h0M460.0,78.4h0M421.5,42.0h0M381.9,70.5h0M360.1,89.4h0M488.2,71.2h0M389.9,82.6h0M497.8,59.7h0M333.2,127.0h0M437.6,129.2h0M352.8,74.6h0M392.3,125.2h0M448.5,133.5h0M377.5,70.6h0M381.5,59.5h0M455.7,57.0h0M464.2,57.7h0M477.1,124.5h0M345.1,130.7h0M475.1,90.8h0M438.5,58.6h0M427.2,112.9h0M443.5,96.3h0M443.9,134.2h0M360.0,117.2h0M453.7,28.0h0M352.7,116.1h0M455.0,71.3h0M357.6,33.4h0M428.9,130.3h0M396.9,33.2h0M469.3,38.9h0M477.4,49.9h0M346.8,68.4h0M386.1,120.4h0M336.6,103.5h0M405.6,96.1h0M401.1,129.4h0M414.5,53.7h0M453.3,123.7h0M314.9,132.1h0M449.3,83.1h0M424.6,46.2h0M360.6,28.9h0M413.4,33.9h0M426.6,135.8h0M400.2,74.3h0M393.3,85.7h0M380.0,36.8h0M433.4,44.2h0M434.8,53.0h0M368.8,104.9h0M497.9,72.1h0M444.0,55.5h0M395.9,121.0h0M394.0,133.8h0M461.3,72.6h0M344.5,77.1h0M413.3,136.3h0M426.4,55.1h0M413.0,115.9h0M386.2,145.0h0M409.9,40.7h0M400.5,138.3h0M346.5,58.1h0M360.7,65.6h0M481.9,121.4h0M391.0,29.6h0M314.5,49.4h0M360.5,35.7h0M393.8,97.1h0M472.8,33.1h0M486.6,68.4h0M435.2,36.9h0M345.6,68.7h0M498.8,68.8h0M460.2,111.1h0M387.4,125.5h0M380.5,40.2h0M368.1,43.9h0M332.7,53.7h0M366.3,79.4h0M324.1,39.7h0M374.9,139.3h0M457.9,132.7h0M379.4,44.1h0M407.9,90.0h0M463.6,122.5h0M336.2,55.6h0M407.4,40.5h0M480.1,56.2h0M376.5,122.4h0M372.5,138.0h0M367.8,47.9h0M467.1,81.6h0M474.5,147.2h0M476.7,113.0h0M488.0,78.0h0M448.6,100.8h0M348.2,103.7h0M359.2,134.1h0M477.8,89.2h0M347.9,101.1h0M426.8,130.5h0M348.8,82.4h0M440.2,43.0h0M346.5,60.9h0M444.8,129.6h0M416.0,57.7h0M466.5,145.1h0M454.1,53.1h0M431.8,115.1h0M346.1,33.2h0M485.2,148.4h0M400.9,147.1h0M348.3,125.3h0M324.8,40.2h0M461.9,75.9h0M395.3,39.4h0M380.0,80.4h0M327.9,44.5h0M387.1,88.0h0M414.6,116.8h0M490.8,78.3h0M396.1,56.9h0M476.0,94.1h0M395.9,59.5h0M334.9,29.5h0M358.2,73.7h0M373.0,64.4h0M353.3,85.4h0M455.9,95.7h0M478.2,115.3h0M368.5,43.3h0M346.2,130.1h0M363.7,56.5h0M368.1,146.6h0M381.9,144.3h0M338.0,31.2h0M426.1,82.0h0M466.7,84.8h0M469.2,81.7h0M391.6,117.0h0M424.2,90.4h0M480.6,90.0h0M436.0,44.2h0M423.8,126.5h0M420.3,27.3h0M383.7,44.9h0M385.8,31.4h0M407.0,128.0h0M355.8,70.4h0M342.7,118.6h0M322.0,119.5h0M419.0,62.0h0M464.2,60.8h0M391.2,134.9h0M433.0,132.1h0M430.2,96.9h0M384.1,132.8h0M387.2,37.5h0M425.3,141.5h0M478.0,60.0h0M447.1,75.7h0M440.7,100.5h0M471.8,61.9h0M457.9,118.2h0M392.5,86.8h0M313.9,125.0h0M463.7,28.1h0M372.3,118.5h0M332.3,30.6h0M497.7,58.0h0M394.5,53.6h0M386.5,86.0h0M406.2,107.3h0M339.9,123.2h0M349.5,56.7h0M487.7,46.5h0M392.1,79.8h0M483.9,96.7h0M414.2,87.9h0M396.8,70.0h0M373.3,59.6h0M484.0,83.6h0M459.3,41.9h0M458.7,53.5h0M431.5,119.6h0M379.5,61.1h0M378.3,132.3h0M368.4,138.2h0M418.3,117.0h0M477.5,107.9h0M426.4,140.5h0M441.6,125.8h0M436.0,31.8h0M384.0,99.0h0M370.8,31.4h0M427.1,39.2h0M365.7,132.4h0M473.9,63.5h0M424.5,32.5h0M333.9,54.8h0M411.7,137.9h0M496.9,58.0h0M450.0,134.0h0M424.4,110.2h0M370.6,142.0h0M455.3,111.0h0M480.5,67.1h0M427.1,63.1h0M368.7,137.2h0M346.2,114.1h0M433.1,95.2h0M387.2,41.0h0M490.1,76.7h0M459.7,93.6h0M467.7,81.0h0M333.2,40.5h0M352.8,109.3h0M329.0,124.4h0M350.2,129.2h0M493.2,75.7h0M356.0,135.7h0M383.8,88.1h0M464.2,57.1h0M489.0,83.2h0M443.6,145.3h0M425.1,142.1h0M321.8,128.7h0M456.1,106.0h0M419.8,116.2h0M462.2,123.0h0M390.8,31.2h0M424.4,40.2h0M466.3,138.8h0M465.7,115.2h0M404.2,34.3h0M458.4,118.1h0M328.0,114.8h0M340.2,126.5h0M421.3,91.7h0M432.7,118.7h0M388.6,37.6h0M436.3,123.5h0M384.8,102.2h0M318.7,37.2h0M368.1,37.0h0M374.3,104.2h0M426.8,53.6h0M472.2,80.1h0M347.4,61.9h0M425.4,134.8h0M460.4,104.7h0M497.2,58.1h0M391.0,29.5h0M408.3,102.8h0M339.2,77.1h0M463.3,31.3h0M381.3,103.3h0M420.6,69.9h0M380.0,90.2h0M382.3,58.7h0M422.4,112.3h0M325.3,60.0h0M441.3,142.3h0M342.6,38.9h0M439.7,64.8h0M359.9,50.2h0M373.9,68.0h0M488.2,98.7h0M468.5,101.9h0M441.1,91.5h0M465.3,115.2h0M377.7,72.6h0M353.2,91.0h0M380.8,139.0h0M389.9,139.6h0M482.5,76.8h0M395.7,110.0h0M410.7,45.2h0M446.0,121.0h0M453.3,119.2h0M318.4,112.3h0M334.8,104.9h0M394.5,46.6h0M384.8,69.6h0M371.6,109.1h0M340.9,28.2h0M442.3,130.1h0M494.2,66.5h0M389.4,61.1h0M437.2,148.7h0M405.6,56.5h0M439.8,82.0h0M448.8,75.0h0M383.7,37.7h0M399.8,61.7h0M454.8,76.4h0M383.5,67.5h0M378.5,114.0h0M453.8,60.4h0M333.3,109.8h0M420.5,34.5h0M360.6,135.3h0M470.4,106.4h0M461.0,118.7h0M448.2,73.4h0M497.9,57.1h0M458.6,125.7h0M358.3,96.6h0M457.6,90.6h0M411.1,77.9h0M454.3,90.5h0M322.0,129.0h0M422.4,68.7h0M363.3,50.8h0M368.9,35.0h0M345.2,49.0h0M476.1,103.1h0M414.9,50.8h0M407.5,128.5h0M403.4,82.5h0M412.3,59.6h0M477.4,126.6h0M478.2,118.4h0M389.9,29.1h0M380.6,126.1h0M443.8,104.5h0M390.2,133.7h0M450.7,147.6h0M409.5,145.9h0M442.6,48.1h0M413.6,59.7h0M377.0,117.4h0M329.3,46.5h0M388.8,51.6h0M474.2,34.1h0M346.4,30.9h0M387.1,130.9h0M464.3,54.7h0M402.4,92.2h0M425.5,133.2h0M382.0,101.5h0M492.3,51.4h0M378.2,27.3h0M355.5,54.7h0M477.7,63.3h0M339.6,65.2h0M444.2,117.5h0M353.5,75.8h0M380.7,62.1h0M482.3,147.5h0M481.7,118.5h0M453.9,58.4h0M371.3,110.2h0M328.2,29.5h0M489.1,84.2h0M429.8,73.6h0M404.0,117.5h0M377.7,57.4h0M405.5,33.5h0M334.3,126.2h0M445.0,123.2h0M473.9,147.6h0M481.3,72.1h0M463.9,116.6h0M454.3,47.3h0M426.3,75.6h0M351.0,103.0h0M484.2,91.3h0M391.0,48.4h0M410.0,68.6h0M360.0,118.7h0M380.5,141.5h0M457.8,140.5h0M387.1,127.1h0M381.5,36.8h0M387.7,135.4h0M449.9,147.3h0M446.5,110.1h0M484.1,147.3h0M402.6,58.0h0M399.7,49.7h0M351.9,39.7h0M434.2,137.2h0M474.5,85.9h0M339.8,28.1h0M402.8,117.4h0M382.4,110.8h0M361.0,137.4h0M476.6,105.5h0M343.7,136.4h0M396.0,45.7h0M424.5,92.5h0M412.2,114.5h0M367.0,47.3h0M486.4,55.6h0M456.1,108.1h0M433.4,124.7h0M431.2,72.3h0M377.8,77.1h0M449.2,55.0h0M408.9,130.8h0M314.3,49.6h0M329.5,60.3h0M381.1,53.9h0M344.6,53.0h0M385.2,116.2h0M372.7,61.1h0M324.9,58.7h0M343.7,78.8h0M401.2,116.7h0M369.5,79.3h0M377.9,57.8h0M449.3,48.9h0M400.2,107.7h0M361.1,37.9h0M437.5,72.0h0M413.4,85.7h0M488.7,70.2h0M433.2,30.9h0M441.2,57.3h0M427.1,125.0h0M414.1,130.7h0M413.4,111.2h0M464.7,47.0h0M392.9,72.8h0M468.7,123.2h0M380.8,78.9h0M347.5,117.9h0M471.4,137.9h0M471.2,96.2h0M467.6,96.1h0M476.3,41.2h0M391.9,39.6h0M430.7,115.1h0M476.1,122.9h0M404.1,140.7h0M339.0,51.8h0M377.2,131.1h0M467.8,46.9h0M389.0,83.7h0M497.5,100.6h0M426.7,62.9h0M356.1,120.1h0M340.5,33.6h0M400.7,71.4h0M334.2,62.8h0M432.8,64.0h0M467.7,64.3h0M452.8,114.3h0M369.0,123.3h0M398.4,64.7h0M414.0,145.7h0M499.0,66.7h0M487.0,100.3h0M328.3,91.0h0M422.2,43.1h0M350.4,39.9h0M380.5,40.5h0M440.6,53.3h0M376.6,87.2h0M334.0,114.2h0M339.7,99.6h0M336.4,128.7h0M415.4,49.2h0M422.6,51.7h0M380.7,97.0h0M416.0,140.7h0M440.6,40.4h0M441.0,72.9h0M490.3,65.7h0M375.0,75.6h0M344.2,65.3h0M487.3,84.6h0M332.0,130.2h0M356.6,29.9h0M375.4,49.0h0M490.2,63.4h0M450.5,91.5h0M433.1,118.2h0M385.3,93.8h0M489.2,70.7h0M463.8,57.0h0M467.4,91.0h0M372.0,43.2h0M359.7,75.0h0M467.0,125.6h0M449.5,125.4h0M358.3,136.3h0M353.7,70.7h0M477.8,130.9h0M466.9,33.3h0M371.9,89.1h0M444.9,123.4h0M479.3,55.8h0M328.3,117.9h0M445.7,113.7h0M446.2,38.3h0M445.7,136.2h0M435.4,55.2h0M351.5,66.4h0M342.8,94.2h0M367.5,31.3h0M352.8,90.7h0M446.0,115.6h0M358.6,112.3h0M361.1,44.2h0M496.1,72.6h0M367.7,131.1h0M464.0,55.2h0M401.5,38.4h0M326.4,127.9h0M465.2,76.0h0M351.6,123.3h0M458.1,84.3h0M387.7,117.7h0M342.7,101.7h0M324.2,45.9h0M477.2,89.8h0M445.2,58.8h0M397.7,38.1h0M424.1,38.8h0M373.0,30.5h0M429.5,49.6h0M358.5,44.3h0M408.3,132.5h0M466.1,68.7h0M356.2,43.8h0M470.3,131.4h0M471.8,70.5h0M464.0,100.0h0M399.6,59.6h0M358.1,137.0h0M466.3,115.8h0M447.8,75.1h0M464.3,72.2h0M396.5,43.5h0M364.3,78.0h0M430.1,56.1h0M409.6,108.7h0M470.2,139.1h0M327.6,125.9h0M462.8,119.7h0M349.3,39.9h0M487.1,66.7h0M380.1,66.3h0M369.1,46.9h0M349.8,81.1h0M428.5,99.4h0M476.5,144.9h0M416.4,70.4h0M447.8,37.4h0M361.0,58.0h0M348.0,47.1h0M341.7,111.1h0M343.4,37.7h0M492.8,57.5h0M359.9,52.5h0M390.6,44.9h0M336.0,45.3h0M347.6,105.3h0M339.3,46.0h0M350.3,29.5h0M421.6,58.8h0M361.1,83.9h0M373.4,27.3h0M344.5,96.4h0M400.6,33.7h0M377.3,123.8h0M493.1,57.6h0M456.2,119.0h0M429.1,131.4h0M462.9,63.2h0M402.1,80.5h0M339.7,73.8h0M456.4,54.5h0M438.1,141.9h0M414.9,141.4h0M400.2,122.4h0M455.5,37.5h0M452.3,54.2h0M371.7,134.8h0M446.9,100.0h0M420.2,109.1h0M430.0,104.6h0M471.0,84.1h0M400.8,77.8h0M403.4,113.7h0M403.0,33.0h0M370.5,126.2h0M460.6,89.4h0M371.3,34.6h0M476.1,102.2h0M460.1,140.1h0M450.6,94.8h0M349.6,101.9h0M350.5,33.1h0M348.9,136.6h0M469.4,32.6h0M494.8,63.9h0M335.6,51.0h0M382.8,82.1h0M389.0,77.6h0M480.3,84.9h0M476.9,86.6h0M452.9,34.5h0M438.5,65.0h0M347.2,31.4h0M380.5,73.9h0M437.6,81.6h0M347.4,97.0h0M372.4,28.8h0M388.6,85.5h0M377.2,126.0h0M473.0,103.5h0M390.3,121.4h0M398.1,78.4h0M393.4,147.6h0M339.7,46.6h0M408.5,28.6h0M381.9,58.4h0M359.3,83.1h0M460.2,123.1h0M426.3,32.6h0M446.3,147.8h0M426.5,34.3h0M424.7,46.1h0M354.2,96.7h0M366.5,74.1h0M403.4,72.1h0M440.5,141.8h0M424.2,145.9h0M484.1,126.4h0M376.5,133.0h0M494.7,60.9h0M447.2,129.2h0M404.7,142.2h0M459.9,63.5h0M369.0,42.2h0M410.7,112.6h0M397.2,135.4h0M369.2,50.3h0M336.0,104.6h0M348.4,128.2h0M499.2,78.7h0M354.2,128.4h0M431.0,134.5h0M438.2,39.7h0M344.5,29.8h0M488.2,69.8h0M355.7,127.5h0M371.4,96.7h0M364.3,94.8h0M388.8,57.6h0M422.5,34.4h0M379.4,140.2h0M412.4,142.1h0M445.7,35.9h0M381.0,92.6h0M480.2,32.3h0M462.7,76.2h0M392.7,143.5h0M486.2,104.8h0M382.9,57.6h0M472.5,142.9h0M394.1,50.3h0M405.9,116.8h0M349.2,73.2h0M499.2,86.2h0M425.6,53.2h0M389.1,39.8h0M388.5,122.0h0M400.3,146.4h0M398.0,73.7h0M414.2,106.8h0M376.6,103.2h0M459.6,122.4h0M328.7,30.3h0M355.5,34.8h0M347.1,56.5h0M366.7,69.3h0M359.2,28.6h0M404.5,132.4h0M471.8,117.2h0M424.3,47.0h0M408.3,146.0h0M466.2,78.4h0M394.6,120.1h0M472.6,108.8h0M463.2,54.8h0M360.7,33.4h0M500.4,89.6h0M406.0,88.2h0M328.2,128.1h0M450.4,43.3h0M422.3,140.8h0M424.2,62.1h0M367.9,59.9h0M321.8,129.4h0M456.4,79.5h0M468.1,47.2h0M367.6,86.1h0M358.4,60.1h0M450.0,62.1h0M468.0,84.5h0M435.8,37.1h0M438.4,98.7h0M386.2,102.2h0M391.7,30.0h0M478.6,127.7h0M388.7,132.8h0M377.7,50.3h0M367.0,48.8h0M382.8,83.6h0M351.4,122.9h0M427.4,93.8h0M439.3,130.0h0M436.7,97.3h0M438.1,43.1h0M430.5,51.0h0M362.3,105.4h0M350.2,50.1h0M409.1,27.4h0M419.5,88.2h0M356.6,32.8h0M460.6,91.1h0M471.0,52.9h0M368.2,129.6h0M416.6,148.6h0M369.7,143.9h0M398.6,145.8h0M397.2,70.5h0M409.1,45.6h0M478.9,69.8h0M399.5,93.2h0M327.4,58.1h0M411.7,60.1h0M492.2,83.5h0M462.3,81.8h0M427.4,59.7h0M448.5,50.1h0M360.5,145.5h0M367.8,142.8h0M419.3,79.5h0M447.8,73.1h0M416.3,91.4h0M407.3,145.8h0M423.8,75.5h0M432.9,88.9h0M456.2,123.4h0M361.1,91.1h0M335.5,35.6h0M385.0,47.1h0M491.6,65.1h0M393.6,71.4h0M328.3,124.1h0M352.6,89.7h0M351.4,62.9h0M447.2,116.1h0M320.9,37.8h0M356.6,30.9h0M471.7,110.4h0M413.5,101.8h0M490.8,64.0h0M357.0,88.5h0M327.2,129.2h0M385.8,99.1h0M486.1,72.0h0M440.3,127.5h0M421.3,31.2h0M482.4,142.4h0M439.8,131.4h0M483.2,93.1h0M440.8,113.4h0M340.5,74.8h0M435.9,53.2h0M488.9,63.9h0M462.2,90.3h0M365.1,120.7h0M449.7,78.6h0M437.6,41.6h0M395.9,57.1h0M382.1,101.6h0M343.4,60.2h0M380.8,71.0h0M314.7,42.4h0M401.1,32.0h0M363.2,122.2h0M494.9,58.4h0M427.1,130.4h0M373.8,72.8h0M363.0,39.1h0M370.3,78.8h0M419.3,63.1h0M398.8,87.0h0M384.2,143.0h0M419.1,83.8h0M371.6,145.8h0M448.6,61.9h0M379.7,71.3h0M459.7,120.2h0M449.9,127.7h0M339.8,64.5h0M439.6,69.6h0M402.2,70.5h0M336.3,37.0h0M429.0,67.4h0M487.6,79.9h0M491.9,95.3h0M473.3,81.2h0M436.3,126.1h0M461.7,89.7h0M387.8,64.4h0M399.9,129.5h0M339.2,137.3h0M417.3,103.4h0M341.6,62.5h0M459.0,116.0h0M332.1,127.3h0M399.0,49.2h0M400.9,123.5h0M492.6,61.5h0M440.6,32.3h0M441.9,76.7h0M342.4,86.6h0M330.2,46.9h0M439.7,98.8h0M345.6,96.9h0M390.9,46.3h0M422.3,48.4h0M382.5,110.0h0M386.9,128.0h0M396.1,49.7h0M430.8,49.1h0M429.9,59.1h0M387.1,46.6h0M343.3,57.9h0M342.9,38.3h0M457.5,76.3h0M463.6,118.4h0M348.2,101.9h0M318.7,47.0h0M385.6,43.2h0M482.6,111.4h0M417.7,76.0h0M376.3,120.0h0M399.8,89.7h0M367.6,78.1h0M369.5,29.8h0M476.8,148.6h0M314.0,130.2h0M349.9,124.8h0M403.4,139.7h0M437.2,148.2h0M373.7,49.5h0M435.5,100.6h0M384.9,74.9h0M462.6,138.4h0M346.0,64.9h0M376.7,73.0h0M421.7,63.0h0M431.3,125.7h0M458.5,121.9h0M363.7,137.7h0M343.1,34.0h0M330.7,125.7h0M332.5,135.7h0M377.1,103.2h0M423.8,56.0h0M358.3,85.2h0M447.4,77.0h0M353.1,106.5h0M447.4,42.8h0M358.9,48.9h0M380.3,37.6h0M455.1,43.9h0M487.6,148.7h0M412.5,71.1h0M470.3,51.5h0M415.7,27.9h0M445.8,59.3h0M480.3,104.0h0M376.1,56.2h0M370.1,39.5h0M379.7,92.9h0M448.0,129.3h0M463.3,63.6h0M440.8,30.9h0M441.4,96.6h0M362.1,130.7h0M486.3,106.6h0M400.1,128.2h0M334.0,132.5h0M332.5,131.5h0M419.4,68.4h0M341.9,65.3h0M340.3,60.8h0M349.9,87.3h0M347.6,129.4h0M448.5,36.9h0M365.6,97.0h0M439.8,37.6h0M419.1,59.0h0M364.6,56.6h0M400.6,120.8h0M327.2,118.9h0M339.6,96.1h0M349.1,67.3h0M372.2,35.0h0M435.6,61.1h0M480.8,104.3h0M385.4,113.5h0M363.5,63.3h0M378.0,107.4h0M427.1,55.3h0M441.6,134.8h0M478.0,72.2h0M363.6,74.9h0M422.1,131.5h0M369.1,96.2h0M390.2,57.1h0M369.4,48.7h0M447.4,61.6h0M403.4,65.7h0M433.6,101.1h0M340.4,115.8h0M437.7,76.1h0M478.9,117.9h0M412.2,98.4h0M400.9,34.6h0M399.1,147.8h0M403.9,29.6h0M364.4,61.6h0M400.8,82.2h0M490.0,85.2h0M328.7,128.7h0M437.1,122.4h0M430.5,62.8h0M441.1,42.0h0M454.3,78.5h0M422.5,70.1h0M339.2,99.8h0M358.1,99.6h0M472.5,80.4h0M483.1,70.6h0M397.4,129.2h0M476.4,128.7h0M420.8,86.2h0M336.1,119.7h0M397.2,128.8h0M363.8,37.3h0M351.7,35.8h0M442.1,108.2h0M377.7,142.6h0M380.4,71.4h0M396.0,90.9h0M332.0,134.1h0M437.2,65.0h0M381.1,28.7h0M346.6,44.7h0M468.8,145.7h0M408.6,69.2h0M416.6,112.2h0M426.8,114.2h0M384.4,110.2h0M419.2,114.4h0M476.6,75.5h0M365.4,63.7h0M381.0,32.3h0M353.3,32.5h0M405.0,131.8h0M416.9,80.6h0M390.4,52.2h0M404.5,48.8h0M466.6,137.4h0M361.6,52.2h0M339.0,127.7h0M472.1,109.8h0M484.3,67.9h0M373.2,82.1h0M448.1,142.7h0M432.0,66.3h0M389.6,113.2h0M357.4,141.5h0M400.4,82.8h0M351.6,29.5h0M487.8,62.2h0M390.6,37.8h0M435.3,64.0h0M480.1,75.4h0M389.3,93.6h0M363.5,65.8h0M439.3,80.1h0M463.0,133.4h0M486.8,90.5h0M345.2,50.7h0M474.9,131.6h0M328.2,34.6h0M414.6,28.2h0M417.5,81.4h0M345.9,106.8h0M436.8,30.5h0M425.0,47.3h0M376.9,48.9h0M438.2,46.0h0M420.1,74.1h0M314.5,122.6h0M313.8,126.3h0M480.3,47.8h0M454.0,51.3h0M410.9,86.1h0M494.8,80.3h0M443.7,126.3h0M381.2,125.9h0M376.6,133.6h0M334.0,56.0h0M374.3,52.1h0M452.0,108.2h0M420.6,68.3h0M357.5,132.8h0M454.2,57.0h0M413.3,42.5h0M369.3,72.7h0M434.7,27.8h0M410.1,113.0h0M466.2,108.3h0M337.2,63.7h0M372.9,102.6h0M439.0,45.2h0M378.4,128.0h0M427.3,93.7h0M411.6,104.9h0M350.7,131.0h0M383.0,101.3h0M364.4,106.4h0M383.0,34.0h0M424.5,109.6h0M366.0,57.9h0M410.9,93.1h0M470.0,98.2h0M323.7,50.5h0M458.3,101.1h0M333.6,85.9h0M449.7,99.3h0M335.6,111.3h0M348.6,76.0h0M410.6,111.6h0M469.5,134.6h0M429.5,94.8h0M337.3,109.0h0M438.0,143.1h0M412.0,102.2h0M458.7,112.8h0M369.4,52.4h0M321.0,126.5h0M488.4,67.7h0M379.4,126.4h0M489.5,61.1h0M378.3,68.1h0M354.6,29.3h0M337.0,33.3h0M412.7,120.7h0M385.7,106.3h0M354.9,112.8h0M396.4,105.0h0M448.4,86.9h0M345.8,52.8h0M459.0,116.9h0M424.8,37.2h0M413.2,54.2h0M403.0,59.3h0M461.2,67.2h0M351.0,116.4h0M487.0,94.9h0M403.0,59.3h0M341.0,115.8h0M454.8,147.0h0M417.8,130.4h0M371.1,58.1h0M389.7,82.4h0M342.2,51.3h0M373.9,70.9h0M354.9,67.3h0M405.0,33.2h0M450.2,27.6h0M449.0,62.2h0M405.5,82.7h0M368.9,91.0h0M456.4,89.1h0M376.8,77.8h0M391.1,53.7h0M443.7,71.8h0M383.8,77.6h0M444.5,80.4h0M353.4,102.4h0M361.4,143.1h0M345.7,42.6h0M433.6,54.5h0M473.6,144.8h0" stroke="#585858" stroke-width="1.5"/>
<path d="M467.0,57.6h0M358.2,112.9h0M425.5,63.0h0M324.8,48.7h0M347.1,60.4h0M400.5,106.4h0M457.7,86.5h0M402.3,42.7h0M429.5,139.7h0M317.8,50.9h0M428.3,131.4h0M465.6,137.0h0M480.1,43.6h0M442.1,29.5h0M484.6,145.0h0M394.2,100.3h0M433.3,125.7h0M466.8,100.6h0M403.3,52.9h0M470.9,36.3h0M361.9,125.7h0M453.5,139.2h0M437.8,37.2h0M449.8,71.8h0M461.4,37.5h0M392.6,78.4h0M362.2,132.9h0M341.8,120.9h0M472.3,127.2h0M391.8,138.7h0M438.6,58.5h0M330.8,44.4h0M446.4,49.2h0M457.4,137.0h0M346.1,90.5h0M375.8,105.3h0M392.6,125.1h0M419.9,137.1h0M466.6,75.6h0M412.7,91.8h0M346.1,122.0h0M371.9,32.4h0M428.2,32.1h0M351.9,73.8h0M341.1,52.2h0M480.9,96.0h0M341.6,50.7h0M387.4,56.4h0M469.5,145.0h0M325.4,35.6h0M408.7,124.1h0M356.9,49.7h0M470.9,61.8h0M335.8,36.4h0M373.9,38.7h0M351.9,134.3h0M446.0,48.9h0M384.5,105.5h0M408.3,96.3h0M392.2,74.0h0M421.0,89.9h0M443.9,49.3h0M408.6,141.7h0M396.3,143.3h0M452.7,37.4h0M430.4,117.5h0M414.1,92.1h0M370.1,88.9h0M479.9,142.3h0M483.2,75.2h0M461.5,105.3h0M454.8,97.7h0M395.5,41.6h0M406.2,111.1h0M333.3,117.5h0M424.5,90.5h0M403.7,146.4h0M421.4,58.5h0M384.4,114.4h0M399.1,86.4h0M457.0,125.2h0M354.5,51.5h0M450.4,142.0h0M371.6,133.3h0M474.7,140.9h0M376.5,69.4h0M499.4,74.3h0M498.3,62.4h0M366.1,81.1h0M343.7,124.0h0M372.8,60.5h0M395.6,42.8h0M441.4,102.1h0M439.5,117.3h0M395.2,106.7h0M414.7,146.4h0M339.1,122.1h0M412.7,87.5h0M481.2,107.9h0M420.4,143.1h0M325.3,39.7h0M316.0,45.3h0M429.0,140.9h0M385.4,127.4h0M383.2,67.4h0M474.4,147.2h0M440.6,145.7h0M409.3,34.4h0M461.9,52.4h0M491.6,102.4h0M417.1,65.9h0M456.0,68.2h0M383.8,77.2h0M476.4,97.1h0M400.8,95.9h0M401.3,72.3h0M382.7,65.1h0M467.3,36.0h0M390.9,93.7h0M340.6,118.9h0M380.0,68.5h0M452.6,34.0h0M361.0,127.4h0M366.3,94.5h0M417.4,46.7h0M371.8,41.1h0M384.7,96.5h0M410.8,82.5h0M438.7,95.3h0M344.6,135.3h0M416.1,68.0h0M415.3,51.1h0M412.1,70.6h0M451.3,107.8h0M468.1,128.6h0M340.0,58.5h0M471.5,104.1h0M345.8,105.3h0M456.7,85.5h0M458.2,145.0h0M390.8,49.1h0M335.5,117.7h0M478.4,69.4h0M449.4,119.6h0M398.2,33.4h0M426.9,93.2h0M362.0,117.9h0M461.5,141.8h0M330.6,121.7h0M388.4,69.8h0M353.5,98.2h0M433.6,44.7h0M437.3,33.6h0M395.7,126.2h0M368.1,68.4h0M368.6,38.8h0M394.2,46.4h0M357.1,39.7h0M477.7,130.4h0M334.9,62.1h0M469.6,46.4h0M455.6,47.3h0M320.0,135.3h0M456.5,74.8h0M446.0,127.8h0M334.7,37.2h0M374.5,142.8h0M401.5,49.5h0M442.9,97.1h0M435.3,130.1h0M362.6,73.2h0M418.4,41.4h0M379.1,123.3h0M388.8,94.1h0M469.3,70.8h0M380.3,29.3h0M448.6,148.0h0M422.6,34.8h0M383.6,66.2h0M466.8,109.3h0M487.7,96.2h0M349.1,127.7h0M342.2,77.6h0M414.2,29.7h0M433.4,30.1h0M419.0,82.1h0M364.4,61.2h0M379.7,55.2h0M495.4,94.2h0M456.7,29.4h0M372.7,122.6h0M375.5,122.9h0M338.1,146.8h0M494.4,99.4h0M418.1,138.6h0M396.1,100.4h0M357.9,74.0h0M327.5,62.5h0M354.3,94.7h0M443.8,94.9h0M461.6,128.2h0M378.6,56.5h0M330.4,33.6h0M405.9,103.1h0M447.4,28.3h0M413.4,129.0h0M485.8,145.0h0M361.5,29.2h0M361.4,50.2h0M396.1,101.3h0M348.5,96.3h0M457.5,49.5h0M434.8,87.4h0M352.9,59.6h0M472.0,73.7h0M397.5,127.3h0M408.1,137.7h0M390.6,60.0h0M336.1,53.0h0M374.1,42.9h0M390.9,98.0h0M471.1,51.2h0M459.1,65.9h0M366.6,37.0h0M370.3,88.3h0M431.0,51.0h0M394.1,101.0h0M487.5,138.7h0M366.2,30.6h0M372.8,70.8h0M470.0,128.0h0M355.9,96.4h0M425.8,27.6h0M376.0,102.5h0M457.4,61.4h0M323.8,76.5h0M357.8,58.7h0M477.0,80.6h0M356.4,132.8h0M392.1,91.6h0M353.7,139.2h0M389.8,144.5h0M439.0,97.1h0M439.8,79.8h0M463.4,53.8h0M470.1,52.0h0M406.4,46.3h0M377.1,147.0h0M472.9,143.1h0M434.5,126.8h0M484.7,47.1h0M403.7,79.2h0M369.7,37.1h0M323.2,120.3h0M480.6,90.0h0M448.5,39.7h0M438.2,36.6h0M376.5,77.0h0M359.2,53.0h0M406.4,118.1h0M359.5,102.2h0M435.2,139.1h0M474.0,68.8h0M357.4,107.3h0M407.9,46.5h0M425.4,37.0h0M382.5,107.6h0M338.7,130.1h0M457.3,61.7h0M393.5,83.2h0M353.2,103.4h0M345.8,54.5h0M473.6,136.9h0M485.7,44.2h0M384.0,110.4h0M500.9,58.7h0M383.6,68.0h0M479.5,79.8h0M453.7,93.6h0M385.3,51.2h0M338.2,65.2h0M420.1,58.1h0M379.9,65.3h0M447.0,47.6h0M488.0,62.4h0M346.5,44.6h0M377.1,96.4h0M479.7,123.9h0M401.9,129.9h0M345.0,47.1h0M371.0,82.9h0M383.1,71.4h0M414.1,36.4h0M459.2,129.7h0M457.9,118.9h0M368.8,32.3h0M456.7,123.6h0M473.4,65.9h0M447.4,51.4h0M444.9,61.9h0M401.9,84.9h0M357.6,90.9h0M416.4,29.1h0M335.9,59.1h0M350.8,100.6h0M347.3,68.8h0M364.6,63.9h0M364.8,110.0h0M423.7,30.5h0M395.8,67.1h0M471.3,119.9h0M448.5,48.4h0M349.5,117.7h0M470.3,56.2h0M391.3,117.3h0M357.2,44.1h0M361.5,57.5h0M456.0,136.2h0M371.7,78.0h0M466.3,93.1h0M386.3,139.6h0M350.6,39.8h0M372.8,103.7h0M324.6,80.1h0M412.3,98.4h0M432.2,56.0h0M442.1,111.4h0M348.8,68.1h0M435.3,102.8h0M465.8,108.9h0M422.8,34.2h0M388.5,69.7h0M427.0,99.2h0M375.1,145.6h0M481.4,148.5h0M392.1,34.1h0M410.1,89.4h0M470.0,141.2h0M338.3,39.1h0M468.0,84.8h0M319.0,129.4h0M410.2,146.3h0M395.7,145.5h0M351.9,120.5h0M470.0,84.1h0M338.7,109.5h0M409.5,76.3h0M396.1,103.8h0M429.1,49.1h0M377.7,62.2h0M477.6,96.7h0M436.5,28.7h0M399.6,77.3h0M352.9,55.7h0M433.2,124.6h0M332.9,28.2h0M428.7,146.7h0M421.7,84.2h0M489.9,87.3h0M470.5,145.7h0M396.1,95.8h0M470.8,92.6h0M464.2,133.2h0M498.7,72.8h0M353.7,65.9h0M438.6,46.6h0M415.9,71.4h0M439.2,141.2h0M422.3,70.5h0M381.7,27.8h0M428.4,50.4h0M350.0,82.5h0M331.0,61.6h0M390.4,38.6h0M464.6,117.2h0M454.5,38.1h0M417.1,45.5h0M332.8,53.0h0M464.0,141.2h0M497.6,90.4h0M373.4,132.5h0M394.8,117.4h0M366.5,28.7h0M389.3,34.4h0M375.8,78.1h0M348.5,32.2h0M475.1,123.8h0M436.5,109.2h0M390.2,69.9h0M439.4,74.8h0M373.5,135.2h0M381.1,57.1h0M361.9,90.9h0M393.6,60.7h0M471.2,78.1h0M331.7,133.8h0M433.7,82.6h0M418.6,140.6h0M358.6,52.6h0M440.7,34.1h0M318.6,82.1h0M415.4,74.2h0M394.7,42.0h0M379.6,67.5h0M400.8,133.0h0M382.4,108.8h0M342.9,89.6h0M393.2,78.0h0M398.9,90.5h0M454.6,141.2h0M360.3,35.6h0M393.8,96.7h0M431.6,40.7h0M427.5,29.2h0M441.0,120.2h0M408.1,91.8h0M373.0,51.1h0M430.5,104.1h0M404.3,40.4h0M320.2,42.0h0M482.1,97.6h0M403.7,68.9h0M402.5,50.6h0M460.9,138.7h0M348.1,37.7h0M444.5,33.1h0M387.2,127.2h0M403.6,87.0h0M344.6,48.6h0M352.5,30.7h0M349.0,35.8h0M436.2,36.1h0M382.3,74.2h0M456.2,129.9h0M398.4,110.4h0M343.5,67.8h0M368.6,35.8h0M364.0,62.5h0M428.1,116.7h0M313.9,44.4h0M362.2,69.5h0M411.8,37.2h0M371.4,128.8h0M442.8,136.4h0M426.4,74.6h0M474.2,140.3h0M436.0,94.4h0M374.8,39.1h0M377.6,88.2h0M476.6,144.0h0M403.3,48.9h0M384.9,126.7h0M350.4,72.6h0M344.0,61.4h0M411.2,133.9h0M378.4,140.9h0M333.3,55.4h0M439.9,58.4h0M417.1,141.7h0M336.8,103.1h0M446.0,124.1h0M357.0,68.7h0M443.1,42.6h0M447.9,84.0h0M406.3,44.6h0M352.9,33.0h0M396.0,75.7h0M441.1,30.6h0M431.6,82.8h0M456.4,112.2h0M373.7,123.9h0M479.1,70.1h0M350.1,68.0h0M338.1,107.0h0M495.1,70.0h0M449.8,83.7h0M476.6,118.8h0M372.6,105.4h0M410.7,141.0h0M423.4,33.8h0M401.5,52.9h0M370.7,50.4h0M467.7,137.7h0M436.2,79.5h0M336.1,100.2h0M391.2,56.7h0M469.4,58.9h0M475.0,138.0h0M441.7,47.4h0M357.3,68.0h0M368.1,53.6h0M427.8,103.9h0M386.7,146.5h0M398.6,78.4h0M355.3,121.4h0M417.6,66.9h0M411.5,119.8h0M471.4,68.9h0M472.4,92.0h0M464.4,45.2h0M348.7,128.7h0M333.5,49.9h0M368.9,39.3h0M464.5,102.1h0M418.8,41.0h0M351.3,29.5h0M352.7,51.4h0M347.7,56.3h0M372.8,136.4h0M453.7,46.7h0M417.8,76.7h0M390.3,44.3h0M335.6,63.2h0M422.3,84.0h0M412.2,63.4h0M426.0,116.1h0M419.4,37.8h0M433.1,27.9h0M471.1,144.1h0M337.1,73.2h0M453.4,38.3h0M355.6,77.1h0M472.1,108.4h0M429.8,113.8h0M456.6,116.6h0M444.5,49.7h0M426.0,109.7h0M417.4,34.6h0M345.6,100.4h0M479.9,142.8h0M325.9,35.9h0M429.9,66.9h0M325.6,51.2h0M328.5,37.1h0M365.3,68.6h0M371.6,146.6h0M442.6,126.8h0M393.6,120.4h0M459.9,82.1h0M395.1,62.5h0M477.9,31.2h0M406.3,83.5h0M328.9,41.2h0M351.5,72.3h0M370.0,95.0h0M357.8,64.4h0M382.6,91.4h0M452.3,136.4h0M417.3,122.7h0M411.2,139.9h0M337.3,57.6h0M314.9,123.6h0M427.1,67.4h0M476.1,90.1h0M429.7,114.2h0M428.6,54.0h0M365.6,105.3h0M366.9,143.5h0M368.1,136.6h0M468.2,144.7h0M391.8,38.2h0M431.3,67.5h0M349.3,104.8h0M469.0,146.0h0M359.6,75.0h0M336.4,124.8h0M404.5,50.1h0M354.2,115.4h0M455.7,60.5h0M413.0,119.9h0M473.8,99.3h0M352.1,63.5h0M418.5,123.5h0M461.4,29.2h0M477.1,81.0h0M410.3,123.7h0M441.1,66.4h0M476.4,132.0h0M409.1,30.1h0M338.1,118.4h0M440.7,34.0h0M347.2,113.9h0M478.6,122.3h0M401.0,115.6h0M386.5,103.4h0M337.4,122.4h0M462.0,102.3h0M436.8,112.4h0M467.6,126.6h0M481.6,83.0h0M396.8,113.7h0M470.2,78.5h0M471.8,101.5h0M478.1,118.4h0M446.1,148.8h0M397.1,35.3h0M437.7,89.6h0M388.8,142.7h0M419.4,57.4h0M385.2,137.3h0M458.8,93.0h0M402.8,97.7h0M402.8,88.4h0M437.6,56.2h0M353.5,90.5h0M324.8,117.8h0M431.6,58.2h0M465.1,118.6h0M356.0,93.8h0M477.3,74.5h0M414.6,67.1h0M391.3,68.8h0M315.8,122.2h0M457.0,132.8h0M326.1,115.8h0M340.9,132.9h0M455.0,45.3h0M332.2,114.0h0M350.5,111.6h0M398.9,125.6h0M409.3,72.2h0M467.7,87.1h0M468.5,47.7h0M371.7,36.2h0M364.1,131.4h0M376.9,54.7h0M381.3,122.1h0M419.5,130.4h0M379.7,139.9h0M451.4,114.0h0M471.6,136.0h0M480.2,93.7h0M471.4,52.0h0M464.0,68.7h0M474.7,139.8h0M462.7,117.8h0M409.1,97.7h0M454.4,128.4h0M346.9,96.1h0M451.1,115.7h0M449.4,36.7h0M369.8,108.4h0M404.9,95.2h0M486.8,144.4h0M408.1,30.2h0M419.6,38.7h0M459.7,113.2h0M473.4,125.8h0M427.8,120.9h0M365.4,96.8h0M367.1,49.0h0M446.2,125.7h0M454.7,135.7h0M463.7,144.9h0M416.3,28.7h0M458.3,54.0h0M474.1,73.9h0M398.7,69.2h0M344.2,85.0h0M391.7,58.3h0M373.5,119.0h0M476.0,49.7h0M386.7,100.5h0M465.8,139.7h0M404.9,92.5h0M353.3,56.3h0M413.2,69.2h0M348.6,29.1h0M349.9,61.1h0M352.5,50.2h0M438.3,130.7h0M442.0,147.7h0M378.5,139.5h0M488.5,61.6h0M401.7,67.6h0M406.6,89.1h0M340.9,39.1h0M396.6,66.9h0M348.8,78.1h0M494.1,109.5h0M390.7,50.3h0M350.8,116.8h0M423.2,76.1h0M395.7,98.1h0M466.7,131.8h0M417.6,117.2h0M372.9,69.5h0M406.9,33.7h0M433.2,35.9h0M462.9,134.1h0M462.4,143.2h0M335.0,52.0h0M470.2,141.5h0M463.7,131.3h0M407.4,29.7h0M387.6,59.6h0M386.6,41.2h0M377.3,49.2h0M443.4,51.5h0M326.4,48.8h0M339.3,74.0h0M440.3,86.8h0M434.4,115.0h0M484.6,146.2h0M396.6,87.3h0M382.2,80.6h0M413.0,132.6h0M401.3,72.5h0M481.0,73.7h0M485.4,105.4h0M351.0,34.3h0M393.7,49.3h0M475.7,121.3h0M409.5,122.2h0M388.8,125.5h0M460.5,45.0h0M448.1,71.9h0M330.2,48.5h0M385.1,36.5h0M386.0,61.1h0M379.7,128.3h0M374.8,130.3h0M376.0,103.5h0M459.6,132.3h0M382.6,62.0h0M466.6,56.6h0M481.4,116.5h0M392.3,39.0h0M397.4,74.7h0M316.5,42.2h0M401.6,113.7h0M321.8,37.3h0M490.5,100.8h0M430.6,53.4h0M493.6,90.0h0M408.9,82.6h0M410.1,67.3h0M412.7,132.2h0M343.4,74.3h0M463.7,68.3h0M412.3,131.0h0M364.9,45.3h0M454.4,73.4h0M356.5,86.4h0M403.1,80.6h0M451.0,70.0h0M481.0,115.9h0M370.7,105.1h0M442.5,130.1h0M470.1,69.9h0M359.4,140.7h0M363.6,50.7h0M380.0,140.5h0M393.2,85.3h0M359.1,134.0h0M472.7,68.4h0M333.5,43.6h0M469.2,92.1h0M391.2,55.9h0M439.7,96.7h0M457.7,46.6h0M431.4,31.3h0M463.4,45.3h0M394.9,68.9h0M444.0,117.8h0M457.5,62.7h0M390.0,115.9h0M408.1,86.4h0" stroke="#7a7a7a" stroke-width="1.6"/>
<path d="M473.5,101.9h0M462.4,138.5h0M461.9,132.2h0M341.0,49.7h0M456.5,146.4h0M342.9,119.0h0M370.7,65.9h0M470.0,135.3h0M466.9,85.6h0M421.7,112.0h0M418.7,95.4h0M336.5,127.5h0M351.4,104.1h0M424.2,55.1h0M453.3,32.1h0M417.1,56.7h0M457.2,146.5h0M362.2,33.5h0M436.8,103.0h0M389.0,113.0h0M389.2,66.4h0M451.8,147.5h0M409.5,148.0h0M401.1,43.0h0M357.6,97.7h0M424.4,93.6h0M449.2,108.6h0M399.7,130.7h0M328.2,59.0h0M364.2,124.0h0M487.6,104.9h0M414.2,129.3h0M417.0,67.8h0M409.1,133.5h0M362.3,90.8h0M472.3,83.8h0M357.6,98.2h0M405.4,85.9h0M442.3,141.8h0M389.9,55.9h0M336.0,64.3h0M409.0,77.2h0M478.6,82.5h0M436.9,45.4h0M380.2,113.1h0M424.6,59.9h0M401.5,89.5h0M415.5,89.8h0M422.8,48.3h0M385.0,37.8h0M452.5,132.5h0M480.2,53.2h0M404.1,43.4h0M352.6,105.5h0M379.9,145.4h0M319.6,37.0h0M467.3,131.6h0M356.0,29.0h0M313.7,123.7h0M391.7,33.4h0M441.5,125.5h0M322.5,51.6h0M479.9,142.3h0M451.4,114.7h0M395.5,110.4h0M348.1,95.5h0M412.1,116.9h0M427.7,107.3h0M378.8,130.0h0M414.8,46.1h0M469.4,106.4h0M473.8,145.2h0M451.7,124.4h0M368.1,103.6h0M397.7,85.8h0M462.0,145.9h0M361.5,118.4h0M446.0,53.7h0M354.5,36.7h0M420.8,30.4h0M454.2,94.6h0M381.5,69.0h0M396.5,97.6h0M444.2,129.1h0M472.0,135.7h0M393.7,100.0h0M404.1,128.0h0M368.2,115.2h0M420.0,133.5h0M455.3,40.3h0M316.0,75.4h0M480.0,114.5h0M377.7,101.6h0M485.1,46.8h0M367.7,50.2h0M474.2,109.9h0M372.3,62.8h0M452.5,124.6h0M412.2,76.4h0M391.0,35.7h0M463.6,50.9h0M346.5,39.2h0M353.0,110.2h0M417.2,112.0h0M464.8,143.8h0M358.2,64.3h0M352.2,79.3h0M402.3,119.2h0M458.9,75.9h0M451.6,136.3h0M349.0,36.6h0M323.8,133.0h0M329.2,119.3h0M399.9,36.9h0M371.7,71.4h0M475.3,104.0h0M401.7,59.8h0M414.5,66.6h0M417.4,128.7h0M462.8,36.8h0M396.2,52.7h0M329.6,51.0h0M469.0,141.7h0M474.4,128.0h0M330.9,134.9h0M371.6,40.7h0M467.2,41.2h0M350.3,112.4h0M396.7,88.2h0M353.4,89.5h0M332.7,62.3h0M393.9,28.7h0M457.6,132.3h0M471.0,141.1h0M474.3,111.5h0M478.3,48.8h0M469.5,65.1h0M465.3,136.3h0M340.3,61.5h0M335.7,109.2h0M471.2,132.8h0M380.4,92.4h0M359.5,55.5h0M417.2,38.2h0M408.1,90.9h0M325.5,116.8h0M410.6,30.4h0M447.1,101.9h0M401.8,106.8h0M457.4,136.6h0M471.4,140.5h0M413.6,63.2h0M342.0,64.4h0M407.7,117.1h0M436.9,60.2h0M419.8,146.1h0M357.8,99.7h0M471.2,48.1h0M370.3,50.0h0M377.0,72.7h0M369.2,49.0h0M394.5,72.5h0M356.7,86.5h0M327.4,34.6h0M395.8,130.0h0M400.6,135.9h0M473.6,127.4h0M438.7,127.8h0M482.7,103.7h0M412.2,139.7h0M363.8,122.1h0M429.6,144.2h0M411.5,56.5h0M394.7,108.2h0M390.8,65.8h0M344.4,134.4h0M362.7,74.5h0M320.5,92.2h0M453.6,59.7h0M339.4,44.6h0M479.3,108.7h0M407.9,31.2h0M423.2,90.3h0M471.3,141.4h0M455.4,116.2h0M449.1,61.7h0M469.3,143.6h0M452.7,35.9h0M453.0,52.4h0M346.3,115.7h0M325.6,45.7h0M395.7,101.6h0M470.5,133.1h0M338.6,47.2h0M457.0,147.0h0M317.2,50.4h0M373.3,46.2h0M422.2,121.3h0M358.5,131.9h0M393.7,52.8h0M377.3,125.0h0M425.7,116.1h0M459.2,142.1h0M383.4,74.7h0M462.5,139.6h0M429.9,50.9h0M482.6,144.3h0M434.8,115.4h0M352.3,34.6h0M452.2,100.1h0M449.0,76.6h0M380.4,51.1h0M369.4,120.5h0M458.8,63.3h0M430.7,42.4h0M347.6,115.5h0M425.7,142.7h0M363.4,27.3h0M410.7,36.5h0M347.7,137.8h0M400.6,133.9h0M452.9,120.9h0M389.4,47.8h0M418.5,68.1h0M324.1,36.5h0M384.3,132.8h0M470.1,146.4h0M467.7,144.5h0M461.4,128.0h0M379.6,138.9h0M461.6,45.9h0M404.9,144.5h0M416.8,40.4h0M479.3,91.3h0M402.8,44.7h0M456.9,143.4h0M467.3,134.1h0M365.0,122.0h0M329.4,118.6h0M365.9,98.8h0M361.0,55.9h0M473.5,135.9h0M358.0,99.9h0M462.3,62.1h0M421.7,83.6h0M379.5,142.5h0M413.8,74.4h0M373.6,62.1h0M422.2,58.2h0M349.9,123.7h0M339.9,95.1h0M431.7,32.2h0M359.3,45.9h0M351.1,126.5h0M417.4,66.6h0M406.4,39.5h0M496.4,68.5h0M365.8,97.4h0M414.9,139.2h0M464.9,144.9h0M416.5,114.2h0M428.4,90.6h0M377.9,78.9h0M384.3,61.1h0M396.4,140.6h0M357.3,55.1h0M406.2,126.0h0M388.2,125.0h0M412.9,78.0h0M358.4,98.5h0M426.5,117.8h0M480.7,120.3h0M419.9,124.0h0M383.1,54.7h0M313.5,44.1h0M385.1,47.4h0M447.8,83.7h0M449.1,129.3h0M457.2,57.5h0M454.2,131.3h0M464.7,100.2h0M442.2,96.5h0M353.2,110.1h0M485.2,79.6h0M394.9,91.0h0M441.0,84.1h0M341.8,105.9h0M413.6,61.5h0M324.5,55.8h0M476.3,140.2h0M472.2,130.0h0M475.0,133.7h0M389.5,48.6h0M476.9,148.1h0M373.1,134.5h0M423.3,50.2h0M473.6,127.6h0M354.7,141.4h0M451.3,148.4h0M361.1,64.8h0M391.1,67.9h0M365.6,134.4h0M381.9,115.8h0M449.9,110.0h0M477.6,128.9h0M382.7,52.9h0M411.6,92.1h0M402.6,115.5h0M420.8,33.5h0M342.1,54.0h0M365.9,70.8h0M383.3,48.1h0M417.2,121.7h0M339.3,120.2h0M363.6,127.3h0M477.8,93.6h0M329.7,47.6h0M348.3,82.2h0M455.7,65.0h0M473.7,132.0h0M396.3,67.3h0M437.0,119.9h0M470.8,127.4h0M455.1,115.7h0M397.4,127.8h0M433.9,135.8h0M339.6,114.2h0M500.6,85.1h0M383.4,128.3h0M456.9,31.4h0M472.0,107.0h0M452.0,141.6h0M359.0,137.6h0M455.0,55.9h0M468.3,104.0h0M467.6,131.5h0M446.4,107.1h0M387.2,112.8h0M472.0,111.8h0M414.4,69.5h0M429.9,128.0h0M366.6,79.6h0M386.0,90.6h0M342.5,61.5h0M479.7,68.3h0M420.5,48.5h0M383.0,67.1h0M468.8,136.6h0M464.0,53.6h0M477.9,96.8h0M417.9,62.6h0M323.7,130.0h0M357.3,61.6h0M332.6,47.2h0M343.5,53.6h0M481.8,127.6h0M349.7,42.5h0M439.3,138.9h0M487.2,105.0h0M469.7,129.7h0M447.0,140.2h0M421.7,44.9h0M459.7,28.6h0M359.0,47.3h0M348.5,41.5h0M390.2,55.8h0M460.3,141.7h0M373.5,135.2h0M382.7,129.6h0M395.1,94.1h0M341.8,77.0h0M454.4,143.1h0M376.9,30.9h0M472.9,132.5h0M403.2,143.8h0M499.2,139.0h0M478.5,46.2h0M345.3,110.6h0M375.5,39.3h0M341.6,83.4h0M366.3,132.7h0M471.1,135.2h0M376.5,79.6h0M429.0,129.6h0M415.6,78.1h0M428.2,146.4h0M486.8,124.3h0M388.3,28.4h0M398.6,120.0h0M437.8,134.7h0M467.3,43.1h0M383.2,35.2h0M443.9,103.8h0M472.1,132.6h0M459.6,84.4h0M409.1,73.0h0M467.9,130.5h0M461.2,115.0h0M470.4,70.3h0M360.2,104.2h0M468.1,92.8h0M463.1,141.4h0M422.0,68.5h0M418.6,66.7h0" stroke="#a8a8a8" stroke-width="1.7"/>
<path d="M364.1,37.9h0M470.6,130.4h0M459.5,126.3h0M412.5,90.0h0M381.3,83.6h0M469.2,134.2h0M475.8,148.1h0M457.6,147.1h0M428.0,70.7h0M388.8,107.0h0M359.4,53.8h0M404.8,98.7h0M470.3,36.3h0M410.5,147.6h0M413.2,33.2h0M473.6,120.3h0M374.4,105.0h0M382.4,50.4h0M450.0,57.0h0M472.9,134.4h0M476.1,145.0h0M330.2,131.7h0M462.8,125.0h0M454.4,148.3h0M477.1,63.5h0M384.9,121.4h0M447.6,116.8h0M498.3,72.9h0M352.2,72.2h0M409.0,64.0h0M487.1,76.9h0M352.9,88.0h0M436.7,60.7h0M334.4,52.3h0M471.4,129.1h0M497.8,135.7h0M411.3,80.8h0M379.0,30.2h0M349.4,63.7h0M408.4,118.3h0M391.5,101.6h0M364.4,96.1h0M381.9,120.9h0M474.1,127.0h0M364.3,137.5h0M459.6,128.4h0M468.3,94.4h0M403.0,54.2h0M343.1,120.9h0M464.2,126.5h0M415.8,32.5h0M320.2,143.5h0M404.4,97.3h0M483.8,64.4h0M473.9,54.3h0M354.0,128.3h0M425.3,119.0h0M355.5,65.6h0M375.6,75.4h0M397.2,63.1h0M493.1,100.9h0M327.5,40.7h0M475.2,137.2h0M464.4,148.4h0M499.7,134.9h0M412.2,51.9h0M350.1,137.0h0M394.3,78.5h0M401.1,63.6h0M473.6,144.8h0M460.6,145.5h0M412.4,129.9h0M374.2,31.6h0M452.6,131.0h0M500.6,91.3h0M478.8,142.9h0M432.8,97.6h0M462.8,118.3h0M490.6,79.2h0M424.7,128.1h0M484.3,145.3h0M399.8,141.4h0M374.6,95.5h0M446.0,38.6h0M493.4,75.3h0M497.1,97.0h0M391.4,39.3h0M389.6,38.8h0M409.6,147.1h0M454.7,133.8h0M455.5,93.6h0M413.4,69.7h0M384.8,141.5h0M452.8,130.9h0M416.8,43.9h0M434.5,72.7h0M380.7,96.9h0M373.8,85.2h0M342.7,67.2h0M336.6,108.6h0M333.6,35.9h0M390.5,31.0h0M441.8,83.4h0M381.0,60.7h0M371.9,109.1h0M376.3,36.7h0M474.5,136.8h0M379.3,89.8h0M347.8,121.2h0M467.5,142.5h0M347.1,77.3h0M484.5,76.9h0M413.5,115.8h0M443.8,139.0h0M358.4,138.7h0M488.3,45.2h0M403.2,112.8h0M449.3,96.1h0M421.1,133.3h0M471.0,143.5h0M416.5,132.6h0M406.5,103.7h0M492.3,73.5h0M402.5,126.7h0M465.5,144.7h0M367.7,27.8h0M376.0,134.6h0M376.2,59.1h0M457.6,107.9h0" stroke="#e4e4e4" stroke-width="1.8"/>
</g>
<rect x="313.50" y="149.80" width="187.70" height="44.80" fill="#232323"/>
<g filter="url(#bl2)" fill="none" stroke-linecap="round">
<path d="M325,177.0v8" stroke="#8a8a8a" stroke-width="3.0"/>
<path d="M321,181.5v5" stroke="#666" stroke-width="3"/>
<path d="M338,174.6v6" stroke="#909090" stroke-width="1.3"/>
<path d="M348.0,172.7v6" stroke="#5c5c5c" stroke-width="1.5"/>
<path d="M358.4,166.3v9" stroke="#747474" stroke-width="1.1"/>
<path d="M366.7,167.6v7" stroke="#505050" stroke-width="1.5"/>
<path d="M374.2,165.4v6" stroke="#747474" stroke-width="1.1"/>
<path d="M380.0,166.4v6" stroke="#5c5c5c" stroke-width="1.1"/>
<path d="M390.8,162.4v7" stroke="#5c5c5c" stroke-width="1.1"/>
<path d="M397.6,165.7v7" stroke="#808080" stroke-width="1.5"/>
<path d="M403.7,165.0v8" stroke="#5c5c5c" stroke-width="1.3"/>
<path d="M408.8,163.7v6" stroke="#5c5c5c" stroke-width="1.3"/>
<path d="M415.8,164.3v8" stroke="#808080" stroke-width="1.1"/>
<path d="M421.2,162.6v8" stroke="#686868" stroke-width="1.3"/>
<path d="M427.3,163.3v8" stroke="#5c5c5c" stroke-width="1.1"/>
<path d="M438.1,161.9v9" stroke="#909090" stroke-width="1.3"/>
<path d="M443.2,167.0v6" stroke="#686868" stroke-width="1.3"/>
<path d="M451.0,167.6v6" stroke="#808080" stroke-width="1.1"/>
<path d="M460.5,169.1v8" stroke="#747474" stroke-width="1.3"/>
<path d="M470.8,168.4v8" stroke="#747474" stroke-width="1.1"/>
<path d="M481.0,170.0v8" stroke="#505050" stroke-width="1.1"/>
<path d="M489.1,173.5v8" stroke="#5c5c5c" stroke-width="1.3"/>
<path d="M317.5,188 H497.2" stroke="#3a3a3a" stroke-width="4"/>
</g>
<line x1="313.50" y1="149.80" x2="501.20" y2="149.80" stroke="#f4f4f4" stroke-width="1.5"/>
<path d="M353.15,154.70 H355.65 V165.00 H359.10 L354.40,171.40 L349.70,165.00 H353.15 Z" fill="#fff"/>
<path d="M370.65,150.00 H373.15 V158.20 H376.60 L371.90,164.60 L367.20,158.20 H370.65 Z" fill="#fff"/>
<path d="M398.15,150.00 H400.65 V155.80 H404.10 L399.40,162.20 L394.70,155.80 H398.15 Z" fill="#fff"/>
<path d="M423.15,150.00 H425.65 V155.80 H429.10 L424.40,162.20 L419.70,155.80 H423.15 Z" fill="#fff"/>
<path d="M451.45,150.00 H453.95 V160.40 H457.40 L452.70,166.80 L448.00,160.40 H451.45 Z" fill="#fff"/>
<path d="M471.65,152.50 H474.15 V163.60 H477.60 L472.90,170.00 L468.20,163.60 H471.65 Z" fill="#fff"/>
</g>
<line x1="45.00" y1="271.80" x2="45.00" y2="422.60" stroke="#000" stroke-width="1"/>
<line x1="44.50" y1="422.20" x2="234.50" y2="422.20" stroke="#000" stroke-width="1"/>
<line x1="42.00" y1="422.20" x2="45.00" y2="422.20" stroke="#000" stroke-width="1"/>
<text transform="translate(39.80,425.70) scale(0.88,1)" font-size="10" fill="#000" text-anchor="end" stroke="#000" stroke-width="0.18">0</text>
<line x1="42.00" y1="372.20" x2="45.00" y2="372.20" stroke="#000" stroke-width="1"/>
<text transform="translate(39.80,375.70) scale(0.88,1)" font-size="10" fill="#000" text-anchor="end" stroke="#000" stroke-width="0.18">10</text>
<line x1="42.00" y1="322.20" x2="45.00" y2="322.20" stroke="#000" stroke-width="1"/>
<text transform="translate(39.80,325.70) scale(0.88,1)" font-size="10" fill="#000" text-anchor="end" stroke="#000" stroke-width="0.18">20</text>
<line x1="42.00" y1="272.20" x2="45.00" y2="272.20" stroke="#000" stroke-width="1"/>
<text transform="translate(39.80,275.70) scale(0.88,1)" font-size="10" fill="#000" text-anchor="end" stroke="#000" stroke-width="0.18">30</text>
<text transform="translate(24.10,395.20) rotate(-90)" font-size="18.7" textLength="96.20" lengthAdjust="spacingAndGlyphs" stroke="#000" stroke-width="0.18">Cells/Field</text>
<rect x="54.80" y="280.30" width="17.60" height="6.00" fill="#fff" stroke="#000" stroke-width="0.9"/>
<rect x="54.50" y="298.00" width="18.00" height="5.20" fill="#000"/>
<text x="75.00" y="288.80" font-size="16" fill="#000" textLength="44.50" lengthAdjust="spacingAndGlyphs" stroke="#000" stroke-width="0.18">Rolling</text>
<text x="74.50" y="305.20" font-size="16" fill="#000" textLength="40.50" lengthAdjust="spacingAndGlyphs" stroke="#000" stroke-width="0.18">Arrest</text>
<line x1="59.00" y1="420.95" x2="59.00" y2="419.70" stroke="#000" stroke-width="0.8"/>
<line x1="55.00" y1="419.70" x2="63.00" y2="419.70" stroke="#000" stroke-width="0.8"/>
<rect x="52.95" y="420.95" width="12.10" height="1.25" fill="#fff" stroke="#000" stroke-width="0.9"/>
<line x1="76.25" y1="413.20" x2="76.25" y2="404.45" stroke="#000" stroke-width="0.9"/>
<line x1="72.25" y1="404.45" x2="80.25" y2="404.45" stroke="#000" stroke-width="0.9"/>
<rect x="68.00" y="413.20" width="16.50" height="9.00" fill="#000"/>
<line x1="106.50" y1="421.70" x2="106.50" y2="421.20" stroke="#000" stroke-width="0.8"/>
<line x1="102.50" y1="421.20" x2="110.50" y2="421.20" stroke="#000" stroke-width="0.8"/>
<rect x="100.45" y="421.70" width="12.10" height="0.50" fill="#fff" stroke="#000" stroke-width="0.9"/>
<line x1="123.65" y1="413.70" x2="123.65" y2="410.70" stroke="#000" stroke-width="0.9"/>
<line x1="119.65" y1="410.70" x2="127.65" y2="410.70" stroke="#000" stroke-width="0.9"/>
<rect x="115.50" y="413.70" width="16.30" height="8.50" fill="#000"/>
<line x1="155.00" y1="418.95" x2="155.00" y2="417.45" stroke="#000" stroke-width="0.8"/>
<line x1="151.00" y1="417.45" x2="159.00" y2="417.45" stroke="#000" stroke-width="0.8"/>
<rect x="147.45" y="418.95" width="15.10" height="3.25" fill="#fff" stroke="#000" stroke-width="0.9"/>
<line x1="171.10" y1="366.20" x2="171.10" y2="347.45" stroke="#000" stroke-width="0.9"/>
<line x1="167.10" y1="347.45" x2="175.10" y2="347.45" stroke="#000" stroke-width="0.9"/>
<rect x="163.00" y="366.20" width="16.20" height="56.00" fill="#000"/>
<line x1="202.15" y1="419.20" x2="202.15" y2="417.95" stroke="#000" stroke-width="0.8"/>
<line x1="198.15" y1="417.95" x2="206.15" y2="417.95" stroke="#000" stroke-width="0.8"/>
<rect x="194.75" y="419.20" width="14.80" height="3.00" fill="#fff" stroke="#000" stroke-width="0.9"/>
<line x1="218.25" y1="315.70" x2="218.25" y2="307.70" stroke="#000" stroke-width="0.9"/>
<line x1="214.25" y1="307.70" x2="222.25" y2="307.70" stroke="#000" stroke-width="0.9"/>
<rect x="210.00" y="315.70" width="16.50" height="106.50" fill="#000"/>
<polyline points="76.30,359.50 76.30,335.00 171.00,335.00 171.00,341.30" fill="none" stroke="#000" stroke-width="0.8"/>
<polyline points="171.00,316.30 171.00,292.00 219.50,292.00 219.50,298.80" fill="none" stroke="#000" stroke-width="0.8"/>
<text transform="translate(125.70,330.40) scale(0.8,1)" font-size="7.5" fill="#000" text-anchor="middle" stroke="#000" stroke-width="0.18">&#9733;</text>
<text transform="translate(196.30,287.60) scale(0.8,1)" font-size="7.5" fill="#000" text-anchor="middle" stroke="#000" stroke-width="0.18">&#9733;</text>
<text x="1.00" y="448.00" font-size="15.3" fill="#000" textLength="57.80" lengthAdjust="spacing" stroke="#000" stroke-width="0.18">RMAC8</text>
<text x="0.50" y="467.50" font-size="15.3" fill="#000" textLength="41.50" lengthAdjust="spacing" stroke="#000" stroke-width="0.18">TNF&#945;</text>
<line x1="68.60" y1="442.00" x2="74.40" y2="442.00" stroke="#000" stroke-width="1.4"/>
<line x1="68.60" y1="463.20" x2="74.40" y2="463.20" stroke="#000" stroke-width="1.4"/>
<line x1="114.70" y1="443.00" x2="122.50" y2="443.00" stroke="#000" stroke-width="1.3"/>
<line x1="118.60" y1="439.00" x2="118.60" y2="447.00" stroke="#000" stroke-width="1.3"/>
<line x1="115.70" y1="463.20" x2="121.50" y2="463.20" stroke="#000" stroke-width="1.4"/>
<line x1="162.60" y1="442.00" x2="168.40" y2="442.00" stroke="#000" stroke-width="1.4"/>
<line x1="161.60" y1="465.00" x2="169.40" y2="465.00" stroke="#000" stroke-width="1.3"/>
<line x1="165.50" y1="461.00" x2="165.50" y2="469.00" stroke="#000" stroke-width="1.3"/>
<line x1="208.60" y1="443.00" x2="216.40" y2="443.00" stroke="#000" stroke-width="1.3"/>
<line x1="212.50" y1="439.00" x2="212.50" y2="447.00" stroke="#000" stroke-width="1.3"/>
<line x1="208.60" y1="465.00" x2="216.40" y2="465.00" stroke="#000" stroke-width="1.3"/>
<line x1="212.50" y1="461.00" x2="212.50" y2="469.00" stroke="#000" stroke-width="1.3"/>
<line x1="317.00" y1="271.80" x2="317.00" y2="422.60" stroke="#000" stroke-width="1"/>
<line x1="316.50" y1="422.20" x2="505.30" y2="422.20" stroke="#000" stroke-width="1"/>
<line x1="314.00" y1="422.20" x2="317.00" y2="422.20" stroke="#000" stroke-width="1"/>
<text transform="translate(311.60,425.70) scale(0.85,1)" font-size="10" fill="#000" text-anchor="end" stroke="#000" stroke-width="0.18">0</text>
<line x1="314.00" y1="372.20" x2="317.00" y2="372.20" stroke="#000" stroke-width="1"/>
<text transform="translate(311.60,375.70) scale(0.85,1)" font-size="10" fill="#000" text-anchor="end" stroke="#000" stroke-width="0.18">5</text>
<line x1="314.00" y1="322.20" x2="317.00" y2="322.20" stroke="#000" stroke-width="1"/>
<text transform="translate(311.60,325.70) scale(0.85,1)" font-size="10" fill="#000" text-anchor="end" stroke="#000" stroke-width="0.18">10</text>
<line x1="314.00" y1="272.20" x2="317.00" y2="272.20" stroke="#000" stroke-width="1"/>
<text transform="translate(311.60,275.70) scale(0.85,1)" font-size="10" fill="#000" text-anchor="end" stroke="#000" stroke-width="0.18">15</text>
<line x1="317.00" y1="422.20" x2="317.00" y2="425.20" stroke="#000" stroke-width="1"/>
<text transform="translate(317.00,438.80) scale(0.85,1)" font-size="10" fill="#000" text-anchor="middle" stroke="#000" stroke-width="0.18">0.0</text>
<line x1="348.30" y1="422.20" x2="348.30" y2="425.20" stroke="#000" stroke-width="1"/>
<text transform="translate(348.30,438.80) scale(0.85,1)" font-size="10" fill="#000" text-anchor="middle" stroke="#000" stroke-width="0.18">0.5</text>
<line x1="379.60" y1="422.20" x2="379.60" y2="425.20" stroke="#000" stroke-width="1"/>
<text transform="translate(379.60,438.80) scale(0.85,1)" font-size="10" fill="#000" text-anchor="middle" stroke="#000" stroke-width="0.18">1.0</text>
<line x1="410.90" y1="422.20" x2="410.90" y2="425.20" stroke="#000" stroke-width="1"/>
<text transform="translate(410.90,438.80) scale(0.85,1)" font-size="10" fill="#000" text-anchor="middle" stroke="#000" stroke-width="0.18">1.5</text>
<line x1="442.20" y1="422.20" x2="442.20" y2="425.20" stroke="#000" stroke-width="1"/>
<text transform="translate(442.20,438.80) scale(0.85,1)" font-size="10" fill="#000" text-anchor="middle" stroke="#000" stroke-width="0.18">2.0</text>
<line x1="473.50" y1="422.20" x2="473.50" y2="425.20" stroke="#000" stroke-width="1"/>
<text transform="translate(473.50,438.80) scale(0.85,1)" font-size="10" fill="#000" text-anchor="middle" stroke="#000" stroke-width="0.18">2.5</text>
<line x1="504.80" y1="422.20" x2="504.80" y2="425.20" stroke="#000" stroke-width="1"/>
<text transform="translate(504.80,438.80) scale(0.85,1)" font-size="10" fill="#000" text-anchor="middle" stroke="#000" stroke-width="0.18">3.0</text>
<text transform="translate(298.40,427.00) rotate(-90)" font-size="18.7" textLength="164.00" lengthAdjust="spacingAndGlyphs" stroke="#000" stroke-width="0.18">Rolling Cells/Field</text>
<text x="329.3" y="458" font-size="16" textLength="156" lengthAdjust="spacingAndGlyphs" stroke="#000" stroke-width="0.18">Shear Stress (dynes/cm</text>
<text x="486.00" y="451.50" font-size="11.5" fill="#000" textLength="7.00" lengthAdjust="spacingAndGlyphs" stroke="#000" stroke-width="0.18">2</text>
<text x="494.60" y="458.00" font-size="16" fill="#000" textLength="4.70" lengthAdjust="spacingAndGlyphs" stroke="#000" stroke-width="0.18">)</text>
<polyline points="348.30,341.20 379.60,391.70 410.90,412.20 442.20,415.90 504.80,421.20" fill="none" stroke="#000" stroke-width="1.1"/>
<polyline points="348.30,351.70 379.60,373.20 410.90,394.20 442.20,410.20 504.80,420.70" fill="none" stroke="#000" stroke-width="1.1" stroke-dasharray="3.2 2.6"/>
<circle cx="348.30" cy="341.20" r="1.2" fill="#000"/>
<circle cx="379.60" cy="391.70" r="1.2" fill="#000"/>
<circle cx="410.90" cy="412.20" r="1.2" fill="#000"/>
<circle cx="442.20" cy="415.90" r="1.2" fill="#000"/>
<circle cx="504.80" cy="421.20" r="1.2" fill="#000"/>
<circle cx="348.30" cy="351.70" r="1.2" fill="#000"/>
<circle cx="379.60" cy="373.20" r="1.2" fill="#000"/>
<circle cx="410.90" cy="394.20" r="1.2" fill="#000"/>
<circle cx="442.20" cy="410.20" r="1.2" fill="#000"/>
<circle cx="504.80" cy="420.70" r="1.2" fill="#000"/>
<line x1="348.30" y1="326.20" x2="348.30" y2="376.20" stroke="#000" stroke-width="0.9"/>
<line x1="346.30" y1="326.20" x2="350.30" y2="326.20" stroke="#000" stroke-width="0.9"/>
<line x1="346.30" y1="376.20" x2="350.30" y2="376.20" stroke="#000" stroke-width="0.9"/>
<line x1="348.30" y1="336.20" x2="348.30" y2="352.20" stroke="#000" stroke-width="0.9"/>
<line x1="346.70" y1="336.20" x2="349.90" y2="336.20" stroke="#000" stroke-width="0.9"/>
<line x1="346.70" y1="352.20" x2="349.90" y2="352.20" stroke="#000" stroke-width="0.9"/>
<line x1="379.60" y1="349.70" x2="379.60" y2="396.70" stroke="#000" stroke-width="0.9"/>
<line x1="377.60" y1="349.70" x2="381.60" y2="349.70" stroke="#000" stroke-width="0.9"/>
<line x1="377.60" y1="396.70" x2="381.60" y2="396.70" stroke="#000" stroke-width="0.9"/>
<line x1="379.60" y1="386.70" x2="379.60" y2="396.20" stroke="#000" stroke-width="0.9"/>
<line x1="378.00" y1="386.70" x2="381.20" y2="386.70" stroke="#000" stroke-width="0.9"/>
<line x1="378.00" y1="396.20" x2="381.20" y2="396.20" stroke="#000" stroke-width="0.9"/>
<line x1="410.90" y1="388.20" x2="410.90" y2="399.70" stroke="#000" stroke-width="0.9"/>
<line x1="408.90" y1="388.20" x2="412.90" y2="388.20" stroke="#000" stroke-width="0.9"/>
<line x1="408.90" y1="399.70" x2="412.90" y2="399.70" stroke="#000" stroke-width="0.9"/>
<line x1="442.20" y1="402.20" x2="442.20" y2="421.70" stroke="#000" stroke-width="0.9"/>
<line x1="440.20" y1="402.20" x2="444.20" y2="402.20" stroke="#000" stroke-width="0.9"/>
<line x1="440.20" y1="421.70" x2="444.20" y2="421.70" stroke="#000" stroke-width="0.9"/>
<line x1="504.80" y1="419.20" x2="504.80" y2="422.20" stroke="#000" stroke-width="0.9"/>
<line x1="503.20" y1="419.20" x2="506.40" y2="419.20" stroke="#000" stroke-width="0.9"/>
<line x1="503.20" y1="422.20" x2="506.40" y2="422.20" stroke="#000" stroke-width="0.9"/>
<line x1="431.80" y1="273.30" x2="450.80" y2="273.30" stroke="#000" stroke-width="1"/>
<circle cx="441.30" cy="273.30" r="1.2" fill="#000"/>
<line x1="431.80" y1="293.00" x2="450.80" y2="293.00" stroke="#000" stroke-width="1.3" stroke-dasharray="2.6 1.8"/>
<circle cx="441.30" cy="293.00" r="1.2" fill="#000"/>
<text x="453.30" y="277.50" font-size="16.3" fill="#000" textLength="48.00" lengthAdjust="spacingAndGlyphs" stroke="#000" stroke-width="0.18">Control</text>
<text x="454.50" y="297.00" font-size="16.3" fill="#000" textLength="48.00" lengthAdjust="spacingAndGlyphs" stroke="#000" stroke-width="0.18">RMAC8</text>
<line x1="42.50" y1="550.90" x2="42.50" y2="702.70" stroke="#000" stroke-width="1"/>
<line x1="42.00" y1="702.30" x2="231.70" y2="702.30" stroke="#000" stroke-width="1"/>
<line x1="39.50" y1="702.30" x2="42.50" y2="702.30" stroke="#000" stroke-width="1"/>
<text transform="translate(37.10,705.80) scale(0.85,1)" font-size="10" fill="#000" text-anchor="end" stroke="#000" stroke-width="0.18">0</text>
<line x1="39.50" y1="626.80" x2="42.50" y2="626.80" stroke="#000" stroke-width="1"/>
<text transform="translate(37.10,630.30) scale(0.85,1)" font-size="10" fill="#000" text-anchor="end" stroke="#000" stroke-width="0.18">10</text>
<line x1="39.50" y1="551.30" x2="42.50" y2="551.30" stroke="#000" stroke-width="1"/>
<text transform="translate(37.10,554.80) scale(0.85,1)" font-size="10" fill="#000" text-anchor="end" stroke="#000" stroke-width="0.18">20</text>
<line x1="42.50" y1="702.30" x2="42.50" y2="705.30" stroke="#000" stroke-width="1"/>
<text transform="translate(42.50,717.80) scale(0.85,1)" font-size="10" fill="#000" text-anchor="middle" stroke="#000" stroke-width="0.18">0.0</text>
<line x1="73.95" y1="702.30" x2="73.95" y2="705.30" stroke="#000" stroke-width="1"/>
<text transform="translate(73.95,717.80) scale(0.85,1)" font-size="10" fill="#000" text-anchor="middle" stroke="#000" stroke-width="0.18">0.5</text>
<line x1="105.40" y1="702.30" x2="105.40" y2="705.30" stroke="#000" stroke-width="1"/>
<text transform="translate(105.40,717.80) scale(0.85,1)" font-size="10" fill="#000" text-anchor="middle" stroke="#000" stroke-width="0.18">1.0</text>
<line x1="136.85" y1="702.30" x2="136.85" y2="705.30" stroke="#000" stroke-width="1"/>
<text transform="translate(136.85,717.80) scale(0.85,1)" font-size="10" fill="#000" text-anchor="middle" stroke="#000" stroke-width="0.18">1.5</text>
<line x1="168.30" y1="702.30" x2="168.30" y2="705.30" stroke="#000" stroke-width="1"/>
<text transform="translate(168.30,717.80) scale(0.85,1)" font-size="10" fill="#000" text-anchor="middle" stroke="#000" stroke-width="0.18">2.0</text>
<line x1="199.75" y1="702.30" x2="199.75" y2="705.30" stroke="#000" stroke-width="1"/>
<text transform="translate(199.75,717.80) scale(0.85,1)" font-size="10" fill="#000" text-anchor="middle" stroke="#000" stroke-width="0.18">2.5</text>
<line x1="231.20" y1="702.30" x2="231.20" y2="705.30" stroke="#000" stroke-width="1"/>
<text transform="translate(231.20,717.80) scale(0.85,1)" font-size="10" fill="#000" text-anchor="middle" stroke="#000" stroke-width="0.18">3.0</text>
<text transform="translate(23.60,718.60) rotate(-90)" font-size="18.7" textLength="180.80" lengthAdjust="spacingAndGlyphs" stroke="#000" stroke-width="0.18">Arrested Cells/Field</text>
<text x="52" y="738" font-size="16" textLength="156.5" lengthAdjust="spacingAndGlyphs" stroke="#000" stroke-width="0.18">Shear Stress (dynes/cm</text>
<text x="209.00" y="731.50" font-size="11.5" fill="#000" textLength="7.00" lengthAdjust="spacingAndGlyphs" stroke="#000" stroke-width="0.18">2</text>
<text x="217.50" y="738.00" font-size="16" fill="#000" textLength="4.70" lengthAdjust="spacingAndGlyphs" stroke="#000" stroke-width="0.18">)</text>
<polyline points="73.95,653.98 105.40,681.54 136.85,689.84 168.30,699.28 231.20,701.17" fill="none" stroke="#000" stroke-width="1.15"/>
<polyline points="73.95,591.31 105.40,613.21 136.85,644.16 168.30,686.07 231.20,698.52" fill="none" stroke="#000" stroke-width="1.1" stroke-dasharray="2 0.8"/>
<circle cx="73.95" cy="653.98" r="1.1" fill="#000"/>
<circle cx="105.40" cy="681.54" r="1.1" fill="#000"/>
<circle cx="136.85" cy="689.84" r="1.1" fill="#000"/>
<circle cx="168.30" cy="699.28" r="1.1" fill="#000"/>
<circle cx="231.20" cy="701.17" r="1.1" fill="#000"/>
<circle cx="73.95" cy="591.31" r="1.1" fill="#000"/>
<circle cx="105.40" cy="613.21" r="1.1" fill="#000"/>
<circle cx="136.85" cy="644.16" r="1.1" fill="#000"/>
<circle cx="168.30" cy="686.07" r="1.1" fill="#000"/>
<circle cx="231.20" cy="698.52" r="1.1" fill="#000"/>
<line x1="73.95" y1="579.99" x2="73.95" y2="601.13" stroke="#000" stroke-width="0.9"/>
<line x1="71.95" y1="579.99" x2="75.95" y2="579.99" stroke="#000" stroke-width="0.9"/>
<line x1="71.95" y1="601.13" x2="75.95" y2="601.13" stroke="#000" stroke-width="0.9"/>
<line x1="73.95" y1="651.71" x2="73.95" y2="656.25" stroke="#000" stroke-width="0.9"/>
<line x1="72.35" y1="651.71" x2="75.55" y2="651.71" stroke="#000" stroke-width="0.9"/>
<line x1="72.35" y1="656.25" x2="75.55" y2="656.25" stroke="#000" stroke-width="0.9"/>
<line x1="105.40" y1="608.68" x2="105.40" y2="616.98" stroke="#000" stroke-width="0.9"/>
<line x1="103.40" y1="608.68" x2="107.40" y2="608.68" stroke="#000" stroke-width="0.9"/>
<line x1="103.40" y1="616.98" x2="107.40" y2="616.98" stroke="#000" stroke-width="0.9"/>
<line x1="136.85" y1="635.10" x2="136.85" y2="653.60" stroke="#000" stroke-width="0.9"/>
<line x1="134.85" y1="635.10" x2="138.85" y2="635.10" stroke="#000" stroke-width="0.9"/>
<line x1="134.85" y1="653.60" x2="138.85" y2="653.60" stroke="#000" stroke-width="0.9"/>
<line x1="136.85" y1="685.31" x2="136.85" y2="694.37" stroke="#000" stroke-width="0.9"/>
<line x1="134.85" y1="685.31" x2="138.85" y2="685.31" stroke="#000" stroke-width="0.9"/>
<line x1="134.85" y1="694.37" x2="138.85" y2="694.37" stroke="#000" stroke-width="0.9"/>
<line x1="168.30" y1="697.01" x2="168.30" y2="701.54" stroke="#000" stroke-width="0.9"/>
<line x1="166.70" y1="697.01" x2="169.90" y2="697.01" stroke="#000" stroke-width="0.9"/>
<line x1="166.70" y1="701.54" x2="169.90" y2="701.54" stroke="#000" stroke-width="0.9"/>
<line x1="231.20" y1="697.01" x2="231.20" y2="702.30" stroke="#000" stroke-width="0.9"/>
<line x1="229.60" y1="697.01" x2="232.80" y2="697.01" stroke="#000" stroke-width="0.9"/>
<line x1="229.60" y1="702.30" x2="232.80" y2="702.30" stroke="#000" stroke-width="0.9"/>
<line x1="160.50" y1="552.00" x2="178.80" y2="552.00" stroke="#000" stroke-width="1"/>
<circle cx="170.00" cy="552.00" r="1.2" fill="#000"/>
<line x1="160.50" y1="572.00" x2="178.80" y2="572.00" stroke="#000" stroke-width="1.1" stroke-dasharray="2 0.8"/>
<circle cx="170.00" cy="572.00" r="1.2" fill="#000"/>
<text x="181.80" y="555.50" font-size="16.3" fill="#000" textLength="47.50" lengthAdjust="spacingAndGlyphs" stroke="#000" stroke-width="0.18">Control</text>
<text x="182.50" y="575.00" font-size="16.3" fill="#000" textLength="48.00" lengthAdjust="spacingAndGlyphs" stroke="#000" stroke-width="0.18">RMAC8</text>
<line x1="316.80" y1="550.35" x2="316.80" y2="702.40" stroke="#000" stroke-width="1"/>
<line x1="486.20" y1="550.80" x2="486.20" y2="702.40" stroke="#000" stroke-width="1"/>
<line x1="316.30" y1="702.00" x2="486.70" y2="702.00" stroke="#000" stroke-width="1"/>
<line x1="313.80" y1="702.00" x2="316.80" y2="702.00" stroke="#000" stroke-width="1"/>
<text transform="translate(311.30,705.50) scale(0.84,1)" font-size="10" fill="#000" text-anchor="end" stroke="#000" stroke-width="0.18">0.0</text>
<line x1="313.80" y1="671.75" x2="316.80" y2="671.75" stroke="#000" stroke-width="1"/>
<text transform="translate(311.30,675.25) scale(0.84,1)" font-size="10" fill="#000" text-anchor="end" stroke="#000" stroke-width="0.18">2.5</text>
<line x1="313.80" y1="641.50" x2="316.80" y2="641.50" stroke="#000" stroke-width="1"/>
<text transform="translate(311.30,645.00) scale(0.84,1)" font-size="10" fill="#000" text-anchor="end" stroke="#000" stroke-width="0.18">5.0</text>
<line x1="313.80" y1="611.25" x2="316.80" y2="611.25" stroke="#000" stroke-width="1"/>
<text transform="translate(311.30,614.75) scale(0.84,1)" font-size="10" fill="#000" text-anchor="end" stroke="#000" stroke-width="0.18">7.5</text>
<line x1="313.80" y1="581.00" x2="316.80" y2="581.00" stroke="#000" stroke-width="1"/>
<text transform="translate(311.30,584.50) scale(0.84,1)" font-size="10" fill="#000" text-anchor="end" stroke="#000" stroke-width="0.18">10.0</text>
<line x1="313.80" y1="550.75" x2="316.80" y2="550.75" stroke="#000" stroke-width="1"/>
<text transform="translate(311.30,554.25) scale(0.84,1)" font-size="10" fill="#000" text-anchor="end" stroke="#000" stroke-width="0.18">12.5</text>
<line x1="486.20" y1="702.00" x2="489.20" y2="702.00" stroke="#000" stroke-width="1"/>
<text transform="translate(491.80,705.50) scale(0.85,1)" font-size="10" fill="#000" text-anchor="start" stroke="#000" stroke-width="0.18">0</text>
<line x1="486.20" y1="664.30" x2="489.20" y2="664.30" stroke="#000" stroke-width="1"/>
<text transform="translate(491.80,667.80) scale(0.85,1)" font-size="10" fill="#000" text-anchor="start" stroke="#000" stroke-width="0.18">10</text>
<line x1="486.20" y1="626.60" x2="489.20" y2="626.60" stroke="#000" stroke-width="1"/>
<text transform="translate(491.80,630.10) scale(0.85,1)" font-size="10" fill="#000" text-anchor="start" stroke="#000" stroke-width="0.18">20</text>
<line x1="486.20" y1="588.90" x2="489.20" y2="588.90" stroke="#000" stroke-width="1"/>
<text transform="translate(491.80,592.40) scale(0.85,1)" font-size="10" fill="#000" text-anchor="start" stroke="#000" stroke-width="0.18">30</text>
<line x1="486.20" y1="551.20" x2="489.20" y2="551.20" stroke="#000" stroke-width="1"/>
<text transform="translate(491.80,554.70) scale(0.85,1)" font-size="10" fill="#000" text-anchor="start" stroke="#000" stroke-width="0.18">40</text>
<rect x="323.30" y="691.11" width="28.50" height="10.89" fill="#fff" stroke="#000" stroke-width="0.9"/>
<text transform="translate(337.55,716.30) scale(0.85,1)" font-size="10" fill="#000" text-anchor="middle" stroke="#000" stroke-width="0.18">0</text>
<rect x="365.50" y="660.86" width="27.50" height="41.14" fill="#fff" stroke="#000" stroke-width="0.9"/>
<text transform="translate(379.25,716.30) scale(0.85,1)" font-size="10" fill="#000" text-anchor="middle" stroke="#000" stroke-width="0.18">2</text>
<rect x="408.00" y="625.77" width="28.30" height="76.23" fill="#fff" stroke="#000" stroke-width="0.9"/>
<text transform="translate(422.15,716.30) scale(0.85,1)" font-size="10" fill="#000" text-anchor="middle" stroke="#000" stroke-width="0.18">4</text>
<rect x="450.00" y="593.10" width="28.60" height="108.90" fill="#fff" stroke="#000" stroke-width="0.9"/>
<text transform="translate(464.30,716.30) scale(0.85,1)" font-size="10" fill="#000" text-anchor="middle" stroke="#000" stroke-width="0.18">8</text>
<polyline points="338.30,696.80 380.00,660.50 422.00,652.00 464.30,572.50" fill="none" stroke="#000" stroke-width="1.1"/>
<circle cx="338.30" cy="696.80" r="1.2" fill="#000"/>
<circle cx="380.00" cy="660.50" r="1.2" fill="#000"/>
<circle cx="422.00" cy="652.00" r="1.2" fill="#000"/>
<circle cx="464.30" cy="572.50" r="1.2" fill="#000"/>
<text transform="translate(286.10,718.60) rotate(-90)" font-size="18.7" textLength="179.40" lengthAdjust="spacingAndGlyphs" stroke="#000" stroke-width="0.18">Arrested Cells/Field</text>
<text transform="translate(506.00,608.20) rotate(90)" font-size="18.8" textLength="32.00" lengthAdjust="spacingAndGlyphs" stroke="#000" stroke-width="0.18">RFI</text>
<text x="352.50" y="738.00" font-size="16" fill="#000" textLength="104.50" lengthAdjust="spacingAndGlyphs" stroke="#000" stroke-width="0.18">RMAC8 (&#181;g/mL)</text>
</svg>
</body></html>
